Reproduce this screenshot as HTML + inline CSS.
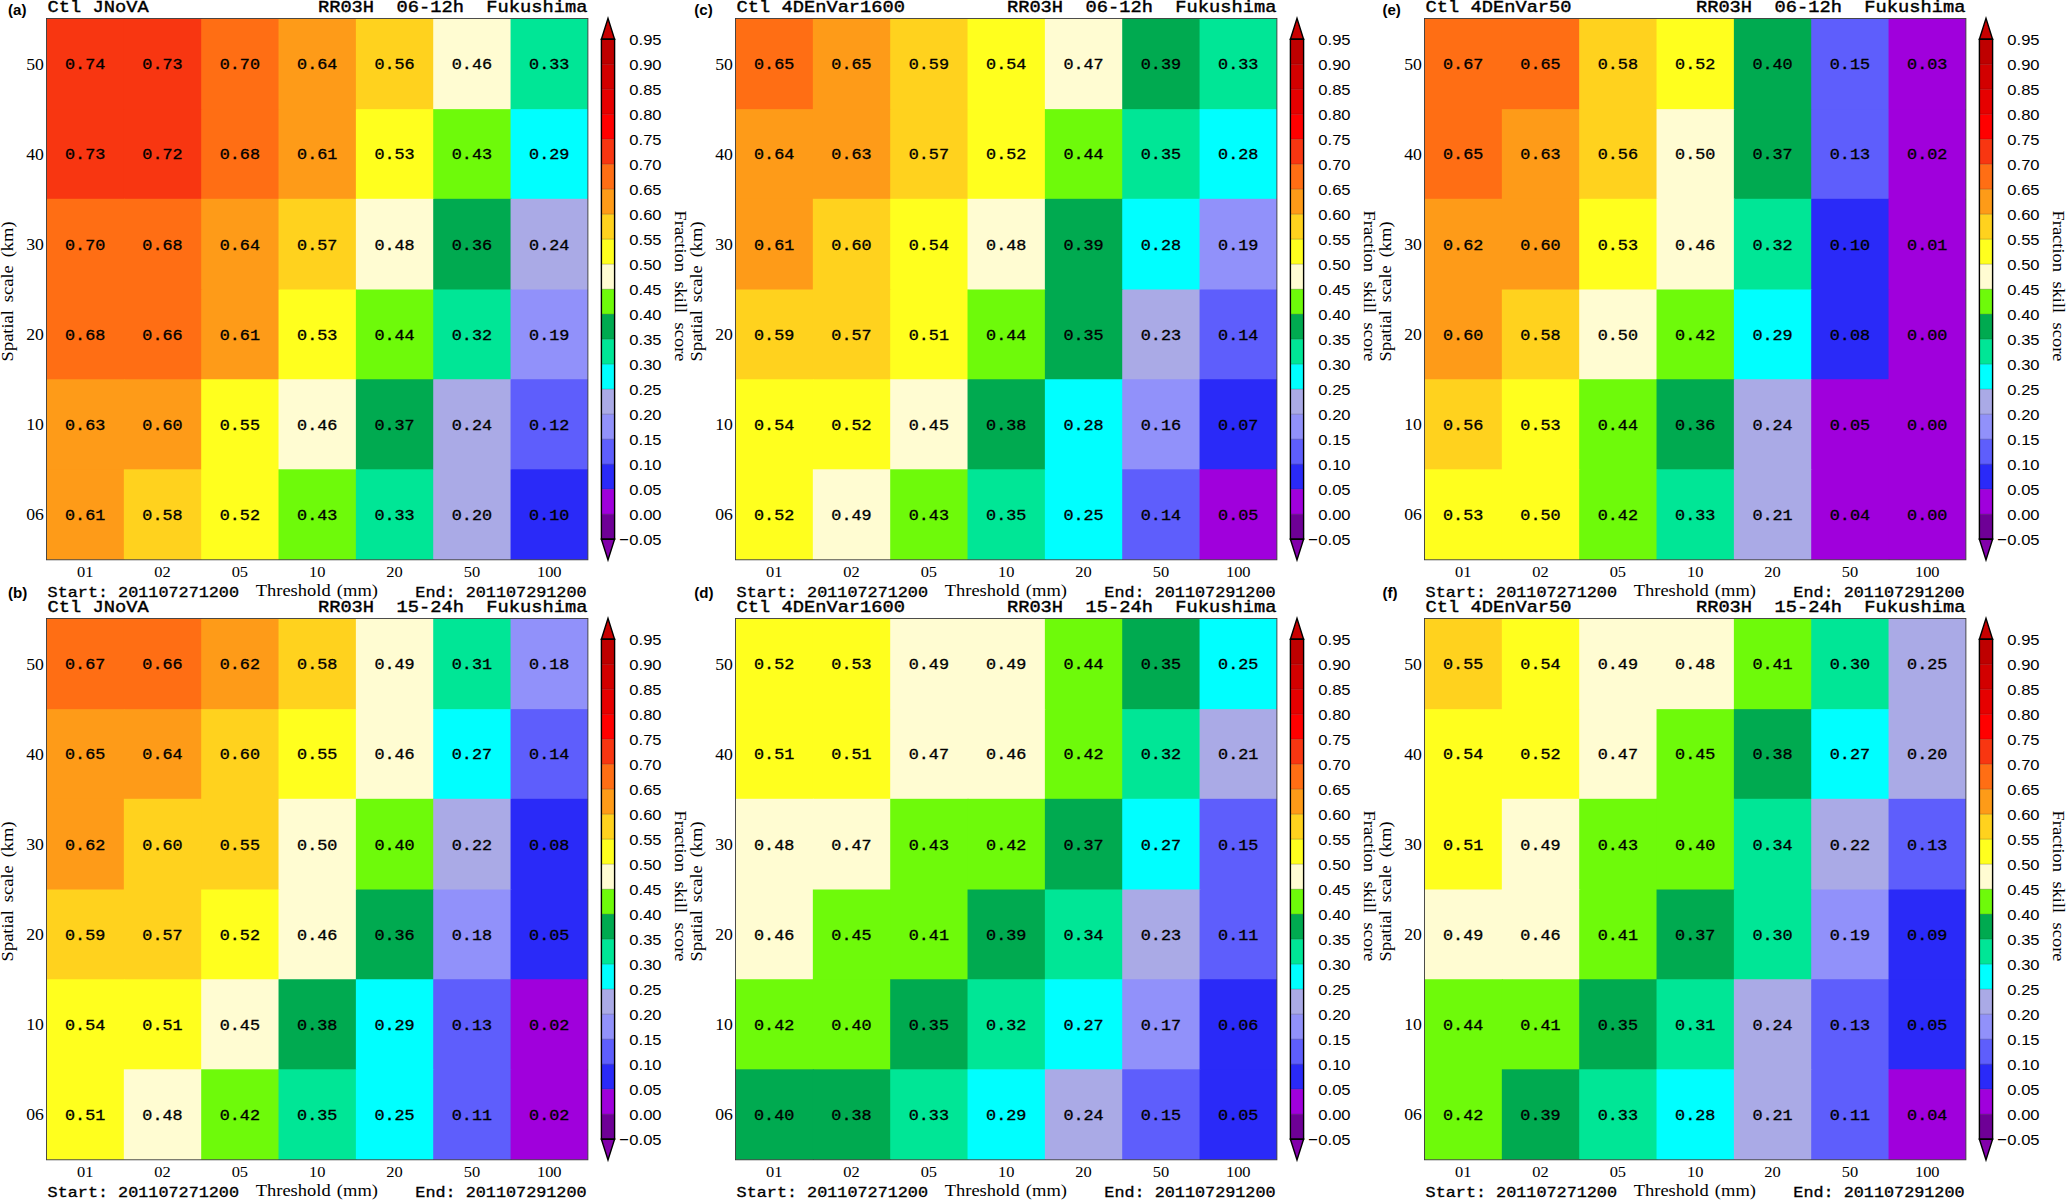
<!DOCTYPE html>
<html><head><meta charset="utf-8"><title>Fraction skill score panels</title>
<style>
html,body{margin:0;padding:0;background:#fff;}
body{width:2067px;height:1200px;overflow:hidden;font-family:"Liberation Sans",sans-serif;}
svg{display:block;}
text{fill:#000;}
</style></head><body>
<svg width="2067" height="1200" viewBox="0 0 2067 1200">
<rect x="0" y="0" width="2067" height="1200" fill="#fff"/>
<g transform="translate(0 0)">
<rect x="46.50" y="18.45" width="78.34" height="91.70" fill="#f83611"/>
<rect x="123.84" y="18.45" width="78.34" height="91.70" fill="#f83611"/>
<rect x="201.19" y="18.45" width="78.34" height="91.70" fill="#ff6e14"/>
<rect x="278.53" y="18.45" width="78.34" height="91.70" fill="#fe9b18"/>
<rect x="355.87" y="18.45" width="78.34" height="91.70" fill="#ffd21e"/>
<rect x="433.21" y="18.45" width="78.34" height="91.70" fill="#fffcd2"/>
<rect x="510.56" y="18.45" width="77.34" height="91.70" fill="#00e696"/>
<rect x="46.50" y="109.15" width="78.34" height="90.65" fill="#f83611"/>
<rect x="123.84" y="109.15" width="78.34" height="90.65" fill="#f83611"/>
<rect x="201.19" y="109.15" width="78.34" height="90.65" fill="#ff6e14"/>
<rect x="278.53" y="109.15" width="78.34" height="90.65" fill="#fe9b18"/>
<rect x="355.87" y="109.15" width="78.34" height="90.65" fill="#ffff1e"/>
<rect x="433.21" y="109.15" width="78.34" height="90.65" fill="#6efa0a"/>
<rect x="510.56" y="109.15" width="77.34" height="90.65" fill="#00ffff"/>
<rect x="46.50" y="198.80" width="78.34" height="91.70" fill="#ff6e14"/>
<rect x="123.84" y="198.80" width="78.34" height="91.70" fill="#ff6e14"/>
<rect x="201.19" y="198.80" width="78.34" height="91.70" fill="#fe9b18"/>
<rect x="278.53" y="198.80" width="78.34" height="91.70" fill="#ffd21e"/>
<rect x="355.87" y="198.80" width="78.34" height="91.70" fill="#fffcd2"/>
<rect x="433.21" y="198.80" width="78.34" height="91.70" fill="#00aa50"/>
<rect x="510.56" y="198.80" width="77.34" height="91.70" fill="#aaaae6"/>
<rect x="46.50" y="289.50" width="78.34" height="90.75" fill="#ff6e14"/>
<rect x="123.84" y="289.50" width="78.34" height="90.75" fill="#ff6e14"/>
<rect x="201.19" y="289.50" width="78.34" height="90.75" fill="#fe9b18"/>
<rect x="278.53" y="289.50" width="78.34" height="90.75" fill="#ffff1e"/>
<rect x="355.87" y="289.50" width="78.34" height="90.75" fill="#6efa0a"/>
<rect x="433.21" y="289.50" width="78.34" height="90.75" fill="#00e696"/>
<rect x="510.56" y="289.50" width="77.34" height="90.75" fill="#9191fa"/>
<rect x="46.50" y="379.25" width="78.34" height="91.05" fill="#fe9b18"/>
<rect x="123.84" y="379.25" width="78.34" height="91.05" fill="#fe9b18"/>
<rect x="201.19" y="379.25" width="78.34" height="91.05" fill="#ffff1e"/>
<rect x="278.53" y="379.25" width="78.34" height="91.05" fill="#fffcd2"/>
<rect x="355.87" y="379.25" width="78.34" height="91.05" fill="#00aa50"/>
<rect x="433.21" y="379.25" width="78.34" height="91.05" fill="#aaaae6"/>
<rect x="510.56" y="379.25" width="77.34" height="91.05" fill="#5e5efc"/>
<rect x="46.50" y="469.30" width="78.34" height="90.50" fill="#fe9b18"/>
<rect x="123.84" y="469.30" width="78.34" height="90.50" fill="#ffd21e"/>
<rect x="201.19" y="469.30" width="78.34" height="90.50" fill="#ffff1e"/>
<rect x="278.53" y="469.30" width="78.34" height="90.50" fill="#6efa0a"/>
<rect x="355.87" y="469.30" width="78.34" height="90.50" fill="#00e696"/>
<rect x="433.21" y="469.30" width="78.34" height="90.50" fill="#aaaae6"/>
<rect x="510.56" y="469.30" width="77.34" height="90.50" fill="#2a2af8"/>
<rect x="46.50" y="18.45" width="541.40" height="541.35" fill="none" stroke="#3a3a3a" stroke-width="0.9"/>
<text transform="translate(85.17 69.30) scale(1.105 1)" font-family="Liberation Mono" font-size="15.2" font-weight="normal" text-anchor="middle" stroke="#000" stroke-width="0.32">0.74</text>
<text transform="translate(162.51 69.30) scale(1.105 1)" font-family="Liberation Mono" font-size="15.2" font-weight="normal" text-anchor="middle" stroke="#000" stroke-width="0.32">0.73</text>
<text transform="translate(239.86 69.30) scale(1.105 1)" font-family="Liberation Mono" font-size="15.2" font-weight="normal" text-anchor="middle" stroke="#000" stroke-width="0.32">0.70</text>
<text transform="translate(317.20 69.30) scale(1.105 1)" font-family="Liberation Mono" font-size="15.2" font-weight="normal" text-anchor="middle" stroke="#000" stroke-width="0.32">0.64</text>
<text transform="translate(394.54 69.30) scale(1.105 1)" font-family="Liberation Mono" font-size="15.2" font-weight="normal" text-anchor="middle" stroke="#000" stroke-width="0.32">0.56</text>
<text transform="translate(471.89 69.30) scale(1.105 1)" font-family="Liberation Mono" font-size="15.2" font-weight="normal" text-anchor="middle" stroke="#000" stroke-width="0.32">0.46</text>
<text transform="translate(549.23 69.30) scale(1.105 1)" font-family="Liberation Mono" font-size="15.2" font-weight="normal" text-anchor="middle" stroke="#000" stroke-width="0.32">0.33</text>
<text transform="translate(85.17 159.46) scale(1.105 1)" font-family="Liberation Mono" font-size="15.2" font-weight="normal" text-anchor="middle" stroke="#000" stroke-width="0.32">0.73</text>
<text transform="translate(162.51 159.46) scale(1.105 1)" font-family="Liberation Mono" font-size="15.2" font-weight="normal" text-anchor="middle" stroke="#000" stroke-width="0.32">0.72</text>
<text transform="translate(239.86 159.46) scale(1.105 1)" font-family="Liberation Mono" font-size="15.2" font-weight="normal" text-anchor="middle" stroke="#000" stroke-width="0.32">0.68</text>
<text transform="translate(317.20 159.46) scale(1.105 1)" font-family="Liberation Mono" font-size="15.2" font-weight="normal" text-anchor="middle" stroke="#000" stroke-width="0.32">0.61</text>
<text transform="translate(394.54 159.46) scale(1.105 1)" font-family="Liberation Mono" font-size="15.2" font-weight="normal" text-anchor="middle" stroke="#000" stroke-width="0.32">0.53</text>
<text transform="translate(471.89 159.46) scale(1.105 1)" font-family="Liberation Mono" font-size="15.2" font-weight="normal" text-anchor="middle" stroke="#000" stroke-width="0.32">0.43</text>
<text transform="translate(549.23 159.46) scale(1.105 1)" font-family="Liberation Mono" font-size="15.2" font-weight="normal" text-anchor="middle" stroke="#000" stroke-width="0.32">0.29</text>
<text transform="translate(85.17 249.62) scale(1.105 1)" font-family="Liberation Mono" font-size="15.2" font-weight="normal" text-anchor="middle" stroke="#000" stroke-width="0.32">0.70</text>
<text transform="translate(162.51 249.62) scale(1.105 1)" font-family="Liberation Mono" font-size="15.2" font-weight="normal" text-anchor="middle" stroke="#000" stroke-width="0.32">0.68</text>
<text transform="translate(239.86 249.62) scale(1.105 1)" font-family="Liberation Mono" font-size="15.2" font-weight="normal" text-anchor="middle" stroke="#000" stroke-width="0.32">0.64</text>
<text transform="translate(317.20 249.62) scale(1.105 1)" font-family="Liberation Mono" font-size="15.2" font-weight="normal" text-anchor="middle" stroke="#000" stroke-width="0.32">0.57</text>
<text transform="translate(394.54 249.62) scale(1.105 1)" font-family="Liberation Mono" font-size="15.2" font-weight="normal" text-anchor="middle" stroke="#000" stroke-width="0.32">0.48</text>
<text transform="translate(471.89 249.62) scale(1.105 1)" font-family="Liberation Mono" font-size="15.2" font-weight="normal" text-anchor="middle" stroke="#000" stroke-width="0.32">0.36</text>
<text transform="translate(549.23 249.62) scale(1.105 1)" font-family="Liberation Mono" font-size="15.2" font-weight="normal" text-anchor="middle" stroke="#000" stroke-width="0.32">0.24</text>
<text transform="translate(85.17 339.78) scale(1.105 1)" font-family="Liberation Mono" font-size="15.2" font-weight="normal" text-anchor="middle" stroke="#000" stroke-width="0.32">0.68</text>
<text transform="translate(162.51 339.78) scale(1.105 1)" font-family="Liberation Mono" font-size="15.2" font-weight="normal" text-anchor="middle" stroke="#000" stroke-width="0.32">0.66</text>
<text transform="translate(239.86 339.78) scale(1.105 1)" font-family="Liberation Mono" font-size="15.2" font-weight="normal" text-anchor="middle" stroke="#000" stroke-width="0.32">0.61</text>
<text transform="translate(317.20 339.78) scale(1.105 1)" font-family="Liberation Mono" font-size="15.2" font-weight="normal" text-anchor="middle" stroke="#000" stroke-width="0.32">0.53</text>
<text transform="translate(394.54 339.78) scale(1.105 1)" font-family="Liberation Mono" font-size="15.2" font-weight="normal" text-anchor="middle" stroke="#000" stroke-width="0.32">0.44</text>
<text transform="translate(471.89 339.78) scale(1.105 1)" font-family="Liberation Mono" font-size="15.2" font-weight="normal" text-anchor="middle" stroke="#000" stroke-width="0.32">0.32</text>
<text transform="translate(549.23 339.78) scale(1.105 1)" font-family="Liberation Mono" font-size="15.2" font-weight="normal" text-anchor="middle" stroke="#000" stroke-width="0.32">0.19</text>
<text transform="translate(85.17 429.94) scale(1.105 1)" font-family="Liberation Mono" font-size="15.2" font-weight="normal" text-anchor="middle" stroke="#000" stroke-width="0.32">0.63</text>
<text transform="translate(162.51 429.94) scale(1.105 1)" font-family="Liberation Mono" font-size="15.2" font-weight="normal" text-anchor="middle" stroke="#000" stroke-width="0.32">0.60</text>
<text transform="translate(239.86 429.94) scale(1.105 1)" font-family="Liberation Mono" font-size="15.2" font-weight="normal" text-anchor="middle" stroke="#000" stroke-width="0.32">0.55</text>
<text transform="translate(317.20 429.94) scale(1.105 1)" font-family="Liberation Mono" font-size="15.2" font-weight="normal" text-anchor="middle" stroke="#000" stroke-width="0.32">0.46</text>
<text transform="translate(394.54 429.94) scale(1.105 1)" font-family="Liberation Mono" font-size="15.2" font-weight="normal" text-anchor="middle" stroke="#000" stroke-width="0.32">0.37</text>
<text transform="translate(471.89 429.94) scale(1.105 1)" font-family="Liberation Mono" font-size="15.2" font-weight="normal" text-anchor="middle" stroke="#000" stroke-width="0.32">0.24</text>
<text transform="translate(549.23 429.94) scale(1.105 1)" font-family="Liberation Mono" font-size="15.2" font-weight="normal" text-anchor="middle" stroke="#000" stroke-width="0.32">0.12</text>
<text transform="translate(85.17 520.10) scale(1.105 1)" font-family="Liberation Mono" font-size="15.2" font-weight="normal" text-anchor="middle" stroke="#000" stroke-width="0.32">0.61</text>
<text transform="translate(162.51 520.10) scale(1.105 1)" font-family="Liberation Mono" font-size="15.2" font-weight="normal" text-anchor="middle" stroke="#000" stroke-width="0.32">0.58</text>
<text transform="translate(239.86 520.10) scale(1.105 1)" font-family="Liberation Mono" font-size="15.2" font-weight="normal" text-anchor="middle" stroke="#000" stroke-width="0.32">0.52</text>
<text transform="translate(317.20 520.10) scale(1.105 1)" font-family="Liberation Mono" font-size="15.2" font-weight="normal" text-anchor="middle" stroke="#000" stroke-width="0.32">0.43</text>
<text transform="translate(394.54 520.10) scale(1.105 1)" font-family="Liberation Mono" font-size="15.2" font-weight="normal" text-anchor="middle" stroke="#000" stroke-width="0.32">0.33</text>
<text transform="translate(471.89 520.10) scale(1.105 1)" font-family="Liberation Mono" font-size="15.2" font-weight="normal" text-anchor="middle" stroke="#000" stroke-width="0.32">0.20</text>
<text transform="translate(549.23 520.10) scale(1.105 1)" font-family="Liberation Mono" font-size="15.2" font-weight="normal" text-anchor="middle" stroke="#000" stroke-width="0.32">0.10</text>
<text transform="translate(43.90 69.60) scale(1.04 1)" font-family="Liberation Serif" font-size="17.0" font-weight="normal" text-anchor="end">50</text>
<text transform="translate(43.90 159.76) scale(1.04 1)" font-family="Liberation Serif" font-size="17.0" font-weight="normal" text-anchor="end">40</text>
<text transform="translate(43.90 249.92) scale(1.04 1)" font-family="Liberation Serif" font-size="17.0" font-weight="normal" text-anchor="end">30</text>
<text transform="translate(43.90 340.08) scale(1.04 1)" font-family="Liberation Serif" font-size="17.0" font-weight="normal" text-anchor="end">20</text>
<text transform="translate(43.90 430.24) scale(1.04 1)" font-family="Liberation Serif" font-size="17.0" font-weight="normal" text-anchor="end">10</text>
<text transform="translate(43.90 520.40) scale(1.04 1)" font-family="Liberation Serif" font-size="17.0" font-weight="normal" text-anchor="end">06</text>
<text transform="translate(85.17 577.30) scale(1.06 1)" font-family="Liberation Serif" font-size="15.5" font-weight="normal" text-anchor="middle">01</text>
<text transform="translate(162.51 577.30) scale(1.06 1)" font-family="Liberation Serif" font-size="15.5" font-weight="normal" text-anchor="middle">02</text>
<text transform="translate(239.86 577.30) scale(1.06 1)" font-family="Liberation Serif" font-size="15.5" font-weight="normal" text-anchor="middle">05</text>
<text transform="translate(317.20 577.30) scale(1.06 1)" font-family="Liberation Serif" font-size="15.5" font-weight="normal" text-anchor="middle">10</text>
<text transform="translate(394.54 577.30) scale(1.06 1)" font-family="Liberation Serif" font-size="15.5" font-weight="normal" text-anchor="middle">20</text>
<text transform="translate(471.89 577.30) scale(1.06 1)" font-family="Liberation Serif" font-size="15.5" font-weight="normal" text-anchor="middle">50</text>
<text transform="translate(549.23 577.30) scale(1.06 1)" font-family="Liberation Serif" font-size="15.5" font-weight="normal" text-anchor="middle">100</text>
<text transform="translate(316.80 596.00) scale(1.075 1)" font-family="Liberation Serif" font-size="17.2" font-weight="normal" text-anchor="middle" word-spacing="1.5">Threshold (mm)</text>
<text transform="translate(13.20 291.40) rotate(-90) scale(1.127 1)" font-family="Liberation Serif" font-size="16.4" text-anchor="middle" word-spacing="2.9">Spatial scale (km)</text>
<text transform="translate(675.10 286.00) rotate(90) scale(1.127 1)" font-family="Liberation Serif" font-size="16.4" text-anchor="middle" word-spacing="4.2">Fraction skill score</text>
<text transform="translate(47.60 12.00) scale(1.088 1)" font-family="Liberation Mono" font-size="17.2" font-weight="normal" text-anchor="start" xml:space="preserve" style="white-space:pre" stroke="#000" stroke-width="0.42">Ctl JNoVA</text>
<text transform="translate(587.40 12.00) scale(1.088 1)" font-family="Liberation Mono" font-size="17.2" font-weight="normal" text-anchor="end" xml:space="preserve" style="white-space:pre" stroke="#000" stroke-width="0.42">RR03H  06-12h  Fukushima</text>
<text transform="translate(47.60 597.00) scale(1.209 1)" font-family="Liberation Mono" font-size="13.9" font-weight="normal" text-anchor="start" xml:space="preserve" style="white-space:pre" stroke="#000" stroke-width="0.3">Start: 201107271200</text>
<text transform="translate(586.60 597.00) scale(1.209 1)" font-family="Liberation Mono" font-size="13.9" font-weight="normal" text-anchor="end" xml:space="preserve" style="white-space:pre" stroke="#000" stroke-width="0.3">End: 201107291200</text>
<text transform="translate(8.00 14.80) scale(0.975 1)" font-family="Liberation Sans" font-size="15.5" font-weight="bold" text-anchor="start">(a)</text>
<rect x="601.40" y="39.20" width="13.20" height="25.20" fill="#be0000"/>
<rect x="601.40" y="64.20" width="13.20" height="25.20" fill="#d20000"/>
<rect x="601.40" y="89.20" width="13.20" height="25.20" fill="#e60000"/>
<rect x="601.40" y="114.20" width="13.20" height="25.20" fill="#ff0000"/>
<rect x="601.40" y="139.20" width="13.20" height="25.20" fill="#f83611"/>
<rect x="601.40" y="164.20" width="13.20" height="25.20" fill="#ff6e14"/>
<rect x="601.40" y="189.20" width="13.20" height="25.20" fill="#fe9b18"/>
<rect x="601.40" y="214.20" width="13.20" height="25.20" fill="#ffd21e"/>
<rect x="601.40" y="239.20" width="13.20" height="25.20" fill="#ffff1e"/>
<rect x="601.40" y="264.20" width="13.20" height="25.20" fill="#fffcd2"/>
<rect x="601.40" y="289.20" width="13.20" height="25.20" fill="#6efa0a"/>
<rect x="601.40" y="314.20" width="13.20" height="25.20" fill="#00aa50"/>
<rect x="601.40" y="339.20" width="13.20" height="25.20" fill="#00e696"/>
<rect x="601.40" y="364.20" width="13.20" height="25.20" fill="#00ffff"/>
<rect x="601.40" y="389.20" width="13.20" height="25.20" fill="#aaaae6"/>
<rect x="601.40" y="414.20" width="13.20" height="25.20" fill="#9191fa"/>
<rect x="601.40" y="439.20" width="13.20" height="25.20" fill="#5e5efc"/>
<rect x="601.40" y="464.20" width="13.20" height="25.20" fill="#2a2af8"/>
<rect x="601.40" y="489.20" width="13.20" height="25.20" fill="#a000dc"/>
<rect x="601.40" y="514.20" width="13.20" height="25.20" fill="#6e0096"/>
<line x1="601.40" y1="64.20" x2="614.60" y2="64.20" stroke="#000" stroke-opacity="0.35" stroke-width="0.6"/>
<line x1="601.40" y1="89.20" x2="614.60" y2="89.20" stroke="#000" stroke-opacity="0.35" stroke-width="0.6"/>
<line x1="601.40" y1="114.20" x2="614.60" y2="114.20" stroke="#000" stroke-opacity="0.35" stroke-width="0.6"/>
<line x1="601.40" y1="139.20" x2="614.60" y2="139.20" stroke="#000" stroke-opacity="0.35" stroke-width="0.6"/>
<line x1="601.40" y1="164.20" x2="614.60" y2="164.20" stroke="#000" stroke-opacity="0.35" stroke-width="0.6"/>
<line x1="601.40" y1="189.20" x2="614.60" y2="189.20" stroke="#000" stroke-opacity="0.35" stroke-width="0.6"/>
<line x1="601.40" y1="214.20" x2="614.60" y2="214.20" stroke="#000" stroke-opacity="0.35" stroke-width="0.6"/>
<line x1="601.40" y1="239.20" x2="614.60" y2="239.20" stroke="#000" stroke-opacity="0.35" stroke-width="0.6"/>
<line x1="601.40" y1="264.20" x2="614.60" y2="264.20" stroke="#000" stroke-opacity="0.35" stroke-width="0.6"/>
<line x1="601.40" y1="289.20" x2="614.60" y2="289.20" stroke="#000" stroke-opacity="0.35" stroke-width="0.6"/>
<line x1="601.40" y1="314.20" x2="614.60" y2="314.20" stroke="#000" stroke-opacity="0.35" stroke-width="0.6"/>
<line x1="601.40" y1="339.20" x2="614.60" y2="339.20" stroke="#000" stroke-opacity="0.35" stroke-width="0.6"/>
<line x1="601.40" y1="364.20" x2="614.60" y2="364.20" stroke="#000" stroke-opacity="0.35" stroke-width="0.6"/>
<line x1="601.40" y1="389.20" x2="614.60" y2="389.20" stroke="#000" stroke-opacity="0.35" stroke-width="0.6"/>
<line x1="601.40" y1="414.20" x2="614.60" y2="414.20" stroke="#000" stroke-opacity="0.35" stroke-width="0.6"/>
<line x1="601.40" y1="439.20" x2="614.60" y2="439.20" stroke="#000" stroke-opacity="0.35" stroke-width="0.6"/>
<line x1="601.40" y1="464.20" x2="614.60" y2="464.20" stroke="#000" stroke-opacity="0.35" stroke-width="0.6"/>
<line x1="601.40" y1="489.20" x2="614.60" y2="489.20" stroke="#000" stroke-opacity="0.35" stroke-width="0.6"/>
<line x1="601.40" y1="514.20" x2="614.60" y2="514.20" stroke="#000" stroke-opacity="0.35" stroke-width="0.6"/>
<path d="M601.40 39.20 L608.00 18.40 L614.60 39.20 Z" fill="#c80000" stroke="#000" stroke-width="1.4" stroke-linejoin="miter"/>
<path d="M601.40 539.20 L608.00 560.00 L614.60 539.20 Z" fill="#8200aa" stroke="#000" stroke-width="1.4" stroke-linejoin="miter"/>
<rect x="601.40" y="39.20" width="13.20" height="500.00" fill="none" stroke="#000" stroke-width="1.4"/>
<text transform="translate(629.30 44.90) scale(1.07 1)" font-family="Liberation Sans" font-size="15.5" font-weight="normal" text-anchor="start">0.95</text>
<text transform="translate(629.30 69.90) scale(1.07 1)" font-family="Liberation Sans" font-size="15.5" font-weight="normal" text-anchor="start">0.90</text>
<text transform="translate(629.30 94.90) scale(1.07 1)" font-family="Liberation Sans" font-size="15.5" font-weight="normal" text-anchor="start">0.85</text>
<text transform="translate(629.30 119.90) scale(1.07 1)" font-family="Liberation Sans" font-size="15.5" font-weight="normal" text-anchor="start">0.80</text>
<text transform="translate(629.30 144.90) scale(1.07 1)" font-family="Liberation Sans" font-size="15.5" font-weight="normal" text-anchor="start">0.75</text>
<text transform="translate(629.30 169.90) scale(1.07 1)" font-family="Liberation Sans" font-size="15.5" font-weight="normal" text-anchor="start">0.70</text>
<text transform="translate(629.30 194.90) scale(1.07 1)" font-family="Liberation Sans" font-size="15.5" font-weight="normal" text-anchor="start">0.65</text>
<text transform="translate(629.30 219.90) scale(1.07 1)" font-family="Liberation Sans" font-size="15.5" font-weight="normal" text-anchor="start">0.60</text>
<text transform="translate(629.30 244.90) scale(1.07 1)" font-family="Liberation Sans" font-size="15.5" font-weight="normal" text-anchor="start">0.55</text>
<text transform="translate(629.30 269.90) scale(1.07 1)" font-family="Liberation Sans" font-size="15.5" font-weight="normal" text-anchor="start">0.50</text>
<text transform="translate(629.30 294.90) scale(1.07 1)" font-family="Liberation Sans" font-size="15.5" font-weight="normal" text-anchor="start">0.45</text>
<text transform="translate(629.30 319.90) scale(1.07 1)" font-family="Liberation Sans" font-size="15.5" font-weight="normal" text-anchor="start">0.40</text>
<text transform="translate(629.30 344.90) scale(1.07 1)" font-family="Liberation Sans" font-size="15.5" font-weight="normal" text-anchor="start">0.35</text>
<text transform="translate(629.30 369.90) scale(1.07 1)" font-family="Liberation Sans" font-size="15.5" font-weight="normal" text-anchor="start">0.30</text>
<text transform="translate(629.30 394.90) scale(1.07 1)" font-family="Liberation Sans" font-size="15.5" font-weight="normal" text-anchor="start">0.25</text>
<text transform="translate(629.30 419.90) scale(1.07 1)" font-family="Liberation Sans" font-size="15.5" font-weight="normal" text-anchor="start">0.20</text>
<text transform="translate(629.30 444.90) scale(1.07 1)" font-family="Liberation Sans" font-size="15.5" font-weight="normal" text-anchor="start">0.15</text>
<text transform="translate(629.30 469.90) scale(1.07 1)" font-family="Liberation Sans" font-size="15.5" font-weight="normal" text-anchor="start">0.10</text>
<text transform="translate(629.30 494.90) scale(1.07 1)" font-family="Liberation Sans" font-size="15.5" font-weight="normal" text-anchor="start">0.05</text>
<text transform="translate(629.30 519.90) scale(1.07 1)" font-family="Liberation Sans" font-size="15.5" font-weight="normal" text-anchor="start">0.00</text>
<text transform="translate(629.30 544.90) scale(1.07 1)" font-family="Liberation Sans" font-size="15.5" font-weight="normal" text-anchor="start">0.05</text>
<text transform="translate(628.80 544.90) scale(1.07 1)" font-family="Liberation Sans" font-size="15.5" font-weight="normal" text-anchor="end">−</text>
</g>
<g transform="translate(0 600)">
<rect x="46.50" y="18.45" width="78.34" height="91.70" fill="#ff6e14"/>
<rect x="123.84" y="18.45" width="78.34" height="91.70" fill="#ff6e14"/>
<rect x="201.19" y="18.45" width="78.34" height="91.70" fill="#fe9b18"/>
<rect x="278.53" y="18.45" width="78.34" height="91.70" fill="#ffd21e"/>
<rect x="355.87" y="18.45" width="78.34" height="91.70" fill="#fffcd2"/>
<rect x="433.21" y="18.45" width="78.34" height="91.70" fill="#00e696"/>
<rect x="510.56" y="18.45" width="77.34" height="91.70" fill="#9191fa"/>
<rect x="46.50" y="109.15" width="78.34" height="90.65" fill="#fe9b18"/>
<rect x="123.84" y="109.15" width="78.34" height="90.65" fill="#fe9b18"/>
<rect x="201.19" y="109.15" width="78.34" height="90.65" fill="#ffd21e"/>
<rect x="278.53" y="109.15" width="78.34" height="90.65" fill="#ffff1e"/>
<rect x="355.87" y="109.15" width="78.34" height="90.65" fill="#fffcd2"/>
<rect x="433.21" y="109.15" width="78.34" height="90.65" fill="#00ffff"/>
<rect x="510.56" y="109.15" width="77.34" height="90.65" fill="#5e5efc"/>
<rect x="46.50" y="198.80" width="78.34" height="91.70" fill="#fe9b18"/>
<rect x="123.84" y="198.80" width="78.34" height="91.70" fill="#ffd21e"/>
<rect x="201.19" y="198.80" width="78.34" height="91.70" fill="#ffd21e"/>
<rect x="278.53" y="198.80" width="78.34" height="91.70" fill="#fffcd2"/>
<rect x="355.87" y="198.80" width="78.34" height="91.70" fill="#6efa0a"/>
<rect x="433.21" y="198.80" width="78.34" height="91.70" fill="#aaaae6"/>
<rect x="510.56" y="198.80" width="77.34" height="91.70" fill="#2a2af8"/>
<rect x="46.50" y="289.50" width="78.34" height="90.75" fill="#ffd21e"/>
<rect x="123.84" y="289.50" width="78.34" height="90.75" fill="#ffd21e"/>
<rect x="201.19" y="289.50" width="78.34" height="90.75" fill="#ffff1e"/>
<rect x="278.53" y="289.50" width="78.34" height="90.75" fill="#fffcd2"/>
<rect x="355.87" y="289.50" width="78.34" height="90.75" fill="#00aa50"/>
<rect x="433.21" y="289.50" width="78.34" height="90.75" fill="#9191fa"/>
<rect x="510.56" y="289.50" width="77.34" height="90.75" fill="#2a2af8"/>
<rect x="46.50" y="379.25" width="78.34" height="91.05" fill="#ffff1e"/>
<rect x="123.84" y="379.25" width="78.34" height="91.05" fill="#ffff1e"/>
<rect x="201.19" y="379.25" width="78.34" height="91.05" fill="#fffcd2"/>
<rect x="278.53" y="379.25" width="78.34" height="91.05" fill="#00aa50"/>
<rect x="355.87" y="379.25" width="78.34" height="91.05" fill="#00ffff"/>
<rect x="433.21" y="379.25" width="78.34" height="91.05" fill="#5e5efc"/>
<rect x="510.56" y="379.25" width="77.34" height="91.05" fill="#a000dc"/>
<rect x="46.50" y="469.30" width="78.34" height="90.50" fill="#ffff1e"/>
<rect x="123.84" y="469.30" width="78.34" height="90.50" fill="#fffcd2"/>
<rect x="201.19" y="469.30" width="78.34" height="90.50" fill="#6efa0a"/>
<rect x="278.53" y="469.30" width="78.34" height="90.50" fill="#00e696"/>
<rect x="355.87" y="469.30" width="78.34" height="90.50" fill="#00ffff"/>
<rect x="433.21" y="469.30" width="78.34" height="90.50" fill="#5e5efc"/>
<rect x="510.56" y="469.30" width="77.34" height="90.50" fill="#a000dc"/>
<rect x="46.50" y="18.45" width="541.40" height="541.35" fill="none" stroke="#3a3a3a" stroke-width="0.9"/>
<text transform="translate(85.17 69.30) scale(1.105 1)" font-family="Liberation Mono" font-size="15.2" font-weight="normal" text-anchor="middle" stroke="#000" stroke-width="0.32">0.67</text>
<text transform="translate(162.51 69.30) scale(1.105 1)" font-family="Liberation Mono" font-size="15.2" font-weight="normal" text-anchor="middle" stroke="#000" stroke-width="0.32">0.66</text>
<text transform="translate(239.86 69.30) scale(1.105 1)" font-family="Liberation Mono" font-size="15.2" font-weight="normal" text-anchor="middle" stroke="#000" stroke-width="0.32">0.62</text>
<text transform="translate(317.20 69.30) scale(1.105 1)" font-family="Liberation Mono" font-size="15.2" font-weight="normal" text-anchor="middle" stroke="#000" stroke-width="0.32">0.58</text>
<text transform="translate(394.54 69.30) scale(1.105 1)" font-family="Liberation Mono" font-size="15.2" font-weight="normal" text-anchor="middle" stroke="#000" stroke-width="0.32">0.49</text>
<text transform="translate(471.89 69.30) scale(1.105 1)" font-family="Liberation Mono" font-size="15.2" font-weight="normal" text-anchor="middle" stroke="#000" stroke-width="0.32">0.31</text>
<text transform="translate(549.23 69.30) scale(1.105 1)" font-family="Liberation Mono" font-size="15.2" font-weight="normal" text-anchor="middle" stroke="#000" stroke-width="0.32">0.18</text>
<text transform="translate(85.17 159.46) scale(1.105 1)" font-family="Liberation Mono" font-size="15.2" font-weight="normal" text-anchor="middle" stroke="#000" stroke-width="0.32">0.65</text>
<text transform="translate(162.51 159.46) scale(1.105 1)" font-family="Liberation Mono" font-size="15.2" font-weight="normal" text-anchor="middle" stroke="#000" stroke-width="0.32">0.64</text>
<text transform="translate(239.86 159.46) scale(1.105 1)" font-family="Liberation Mono" font-size="15.2" font-weight="normal" text-anchor="middle" stroke="#000" stroke-width="0.32">0.60</text>
<text transform="translate(317.20 159.46) scale(1.105 1)" font-family="Liberation Mono" font-size="15.2" font-weight="normal" text-anchor="middle" stroke="#000" stroke-width="0.32">0.55</text>
<text transform="translate(394.54 159.46) scale(1.105 1)" font-family="Liberation Mono" font-size="15.2" font-weight="normal" text-anchor="middle" stroke="#000" stroke-width="0.32">0.46</text>
<text transform="translate(471.89 159.46) scale(1.105 1)" font-family="Liberation Mono" font-size="15.2" font-weight="normal" text-anchor="middle" stroke="#000" stroke-width="0.32">0.27</text>
<text transform="translate(549.23 159.46) scale(1.105 1)" font-family="Liberation Mono" font-size="15.2" font-weight="normal" text-anchor="middle" stroke="#000" stroke-width="0.32">0.14</text>
<text transform="translate(85.17 249.62) scale(1.105 1)" font-family="Liberation Mono" font-size="15.2" font-weight="normal" text-anchor="middle" stroke="#000" stroke-width="0.32">0.62</text>
<text transform="translate(162.51 249.62) scale(1.105 1)" font-family="Liberation Mono" font-size="15.2" font-weight="normal" text-anchor="middle" stroke="#000" stroke-width="0.32">0.60</text>
<text transform="translate(239.86 249.62) scale(1.105 1)" font-family="Liberation Mono" font-size="15.2" font-weight="normal" text-anchor="middle" stroke="#000" stroke-width="0.32">0.55</text>
<text transform="translate(317.20 249.62) scale(1.105 1)" font-family="Liberation Mono" font-size="15.2" font-weight="normal" text-anchor="middle" stroke="#000" stroke-width="0.32">0.50</text>
<text transform="translate(394.54 249.62) scale(1.105 1)" font-family="Liberation Mono" font-size="15.2" font-weight="normal" text-anchor="middle" stroke="#000" stroke-width="0.32">0.40</text>
<text transform="translate(471.89 249.62) scale(1.105 1)" font-family="Liberation Mono" font-size="15.2" font-weight="normal" text-anchor="middle" stroke="#000" stroke-width="0.32">0.22</text>
<text transform="translate(549.23 249.62) scale(1.105 1)" font-family="Liberation Mono" font-size="15.2" font-weight="normal" text-anchor="middle" stroke="#000" stroke-width="0.32">0.08</text>
<text transform="translate(85.17 339.78) scale(1.105 1)" font-family="Liberation Mono" font-size="15.2" font-weight="normal" text-anchor="middle" stroke="#000" stroke-width="0.32">0.59</text>
<text transform="translate(162.51 339.78) scale(1.105 1)" font-family="Liberation Mono" font-size="15.2" font-weight="normal" text-anchor="middle" stroke="#000" stroke-width="0.32">0.57</text>
<text transform="translate(239.86 339.78) scale(1.105 1)" font-family="Liberation Mono" font-size="15.2" font-weight="normal" text-anchor="middle" stroke="#000" stroke-width="0.32">0.52</text>
<text transform="translate(317.20 339.78) scale(1.105 1)" font-family="Liberation Mono" font-size="15.2" font-weight="normal" text-anchor="middle" stroke="#000" stroke-width="0.32">0.46</text>
<text transform="translate(394.54 339.78) scale(1.105 1)" font-family="Liberation Mono" font-size="15.2" font-weight="normal" text-anchor="middle" stroke="#000" stroke-width="0.32">0.36</text>
<text transform="translate(471.89 339.78) scale(1.105 1)" font-family="Liberation Mono" font-size="15.2" font-weight="normal" text-anchor="middle" stroke="#000" stroke-width="0.32">0.18</text>
<text transform="translate(549.23 339.78) scale(1.105 1)" font-family="Liberation Mono" font-size="15.2" font-weight="normal" text-anchor="middle" stroke="#000" stroke-width="0.32">0.05</text>
<text transform="translate(85.17 429.94) scale(1.105 1)" font-family="Liberation Mono" font-size="15.2" font-weight="normal" text-anchor="middle" stroke="#000" stroke-width="0.32">0.54</text>
<text transform="translate(162.51 429.94) scale(1.105 1)" font-family="Liberation Mono" font-size="15.2" font-weight="normal" text-anchor="middle" stroke="#000" stroke-width="0.32">0.51</text>
<text transform="translate(239.86 429.94) scale(1.105 1)" font-family="Liberation Mono" font-size="15.2" font-weight="normal" text-anchor="middle" stroke="#000" stroke-width="0.32">0.45</text>
<text transform="translate(317.20 429.94) scale(1.105 1)" font-family="Liberation Mono" font-size="15.2" font-weight="normal" text-anchor="middle" stroke="#000" stroke-width="0.32">0.38</text>
<text transform="translate(394.54 429.94) scale(1.105 1)" font-family="Liberation Mono" font-size="15.2" font-weight="normal" text-anchor="middle" stroke="#000" stroke-width="0.32">0.29</text>
<text transform="translate(471.89 429.94) scale(1.105 1)" font-family="Liberation Mono" font-size="15.2" font-weight="normal" text-anchor="middle" stroke="#000" stroke-width="0.32">0.13</text>
<text transform="translate(549.23 429.94) scale(1.105 1)" font-family="Liberation Mono" font-size="15.2" font-weight="normal" text-anchor="middle" stroke="#000" stroke-width="0.32">0.02</text>
<text transform="translate(85.17 520.10) scale(1.105 1)" font-family="Liberation Mono" font-size="15.2" font-weight="normal" text-anchor="middle" stroke="#000" stroke-width="0.32">0.51</text>
<text transform="translate(162.51 520.10) scale(1.105 1)" font-family="Liberation Mono" font-size="15.2" font-weight="normal" text-anchor="middle" stroke="#000" stroke-width="0.32">0.48</text>
<text transform="translate(239.86 520.10) scale(1.105 1)" font-family="Liberation Mono" font-size="15.2" font-weight="normal" text-anchor="middle" stroke="#000" stroke-width="0.32">0.42</text>
<text transform="translate(317.20 520.10) scale(1.105 1)" font-family="Liberation Mono" font-size="15.2" font-weight="normal" text-anchor="middle" stroke="#000" stroke-width="0.32">0.35</text>
<text transform="translate(394.54 520.10) scale(1.105 1)" font-family="Liberation Mono" font-size="15.2" font-weight="normal" text-anchor="middle" stroke="#000" stroke-width="0.32">0.25</text>
<text transform="translate(471.89 520.10) scale(1.105 1)" font-family="Liberation Mono" font-size="15.2" font-weight="normal" text-anchor="middle" stroke="#000" stroke-width="0.32">0.11</text>
<text transform="translate(549.23 520.10) scale(1.105 1)" font-family="Liberation Mono" font-size="15.2" font-weight="normal" text-anchor="middle" stroke="#000" stroke-width="0.32">0.02</text>
<text transform="translate(43.90 69.60) scale(1.04 1)" font-family="Liberation Serif" font-size="17.0" font-weight="normal" text-anchor="end">50</text>
<text transform="translate(43.90 159.76) scale(1.04 1)" font-family="Liberation Serif" font-size="17.0" font-weight="normal" text-anchor="end">40</text>
<text transform="translate(43.90 249.92) scale(1.04 1)" font-family="Liberation Serif" font-size="17.0" font-weight="normal" text-anchor="end">30</text>
<text transform="translate(43.90 340.08) scale(1.04 1)" font-family="Liberation Serif" font-size="17.0" font-weight="normal" text-anchor="end">20</text>
<text transform="translate(43.90 430.24) scale(1.04 1)" font-family="Liberation Serif" font-size="17.0" font-weight="normal" text-anchor="end">10</text>
<text transform="translate(43.90 520.40) scale(1.04 1)" font-family="Liberation Serif" font-size="17.0" font-weight="normal" text-anchor="end">06</text>
<text transform="translate(85.17 577.30) scale(1.06 1)" font-family="Liberation Serif" font-size="15.5" font-weight="normal" text-anchor="middle">01</text>
<text transform="translate(162.51 577.30) scale(1.06 1)" font-family="Liberation Serif" font-size="15.5" font-weight="normal" text-anchor="middle">02</text>
<text transform="translate(239.86 577.30) scale(1.06 1)" font-family="Liberation Serif" font-size="15.5" font-weight="normal" text-anchor="middle">05</text>
<text transform="translate(317.20 577.30) scale(1.06 1)" font-family="Liberation Serif" font-size="15.5" font-weight="normal" text-anchor="middle">10</text>
<text transform="translate(394.54 577.30) scale(1.06 1)" font-family="Liberation Serif" font-size="15.5" font-weight="normal" text-anchor="middle">20</text>
<text transform="translate(471.89 577.30) scale(1.06 1)" font-family="Liberation Serif" font-size="15.5" font-weight="normal" text-anchor="middle">50</text>
<text transform="translate(549.23 577.30) scale(1.06 1)" font-family="Liberation Serif" font-size="15.5" font-weight="normal" text-anchor="middle">100</text>
<text transform="translate(316.80 596.00) scale(1.075 1)" font-family="Liberation Serif" font-size="17.2" font-weight="normal" text-anchor="middle" word-spacing="1.5">Threshold (mm)</text>
<text transform="translate(13.20 291.40) rotate(-90) scale(1.127 1)" font-family="Liberation Serif" font-size="16.4" text-anchor="middle" word-spacing="2.9">Spatial scale (km)</text>
<text transform="translate(675.10 286.00) rotate(90) scale(1.127 1)" font-family="Liberation Serif" font-size="16.4" text-anchor="middle" word-spacing="4.2">Fraction skill score</text>
<text transform="translate(47.60 12.00) scale(1.088 1)" font-family="Liberation Mono" font-size="17.2" font-weight="normal" text-anchor="start" xml:space="preserve" style="white-space:pre" stroke="#000" stroke-width="0.42">Ctl JNoVA</text>
<text transform="translate(587.40 12.00) scale(1.088 1)" font-family="Liberation Mono" font-size="17.2" font-weight="normal" text-anchor="end" xml:space="preserve" style="white-space:pre" stroke="#000" stroke-width="0.42">RR03H  15-24h  Fukushima</text>
<text transform="translate(47.60 597.00) scale(1.209 1)" font-family="Liberation Mono" font-size="13.9" font-weight="normal" text-anchor="start" xml:space="preserve" style="white-space:pre" stroke="#000" stroke-width="0.3">Start: 201107271200</text>
<text transform="translate(586.60 597.00) scale(1.209 1)" font-family="Liberation Mono" font-size="13.9" font-weight="normal" text-anchor="end" xml:space="preserve" style="white-space:pre" stroke="#000" stroke-width="0.3">End: 201107291200</text>
<text transform="translate(8.00 -2.10) scale(0.975 1)" font-family="Liberation Sans" font-size="15.5" font-weight="bold" text-anchor="start">(b)</text>
<rect x="601.40" y="39.20" width="13.20" height="25.20" fill="#be0000"/>
<rect x="601.40" y="64.20" width="13.20" height="25.20" fill="#d20000"/>
<rect x="601.40" y="89.20" width="13.20" height="25.20" fill="#e60000"/>
<rect x="601.40" y="114.20" width="13.20" height="25.20" fill="#ff0000"/>
<rect x="601.40" y="139.20" width="13.20" height="25.20" fill="#f83611"/>
<rect x="601.40" y="164.20" width="13.20" height="25.20" fill="#ff6e14"/>
<rect x="601.40" y="189.20" width="13.20" height="25.20" fill="#fe9b18"/>
<rect x="601.40" y="214.20" width="13.20" height="25.20" fill="#ffd21e"/>
<rect x="601.40" y="239.20" width="13.20" height="25.20" fill="#ffff1e"/>
<rect x="601.40" y="264.20" width="13.20" height="25.20" fill="#fffcd2"/>
<rect x="601.40" y="289.20" width="13.20" height="25.20" fill="#6efa0a"/>
<rect x="601.40" y="314.20" width="13.20" height="25.20" fill="#00aa50"/>
<rect x="601.40" y="339.20" width="13.20" height="25.20" fill="#00e696"/>
<rect x="601.40" y="364.20" width="13.20" height="25.20" fill="#00ffff"/>
<rect x="601.40" y="389.20" width="13.20" height="25.20" fill="#aaaae6"/>
<rect x="601.40" y="414.20" width="13.20" height="25.20" fill="#9191fa"/>
<rect x="601.40" y="439.20" width="13.20" height="25.20" fill="#5e5efc"/>
<rect x="601.40" y="464.20" width="13.20" height="25.20" fill="#2a2af8"/>
<rect x="601.40" y="489.20" width="13.20" height="25.20" fill="#a000dc"/>
<rect x="601.40" y="514.20" width="13.20" height="25.20" fill="#6e0096"/>
<line x1="601.40" y1="64.20" x2="614.60" y2="64.20" stroke="#000" stroke-opacity="0.35" stroke-width="0.6"/>
<line x1="601.40" y1="89.20" x2="614.60" y2="89.20" stroke="#000" stroke-opacity="0.35" stroke-width="0.6"/>
<line x1="601.40" y1="114.20" x2="614.60" y2="114.20" stroke="#000" stroke-opacity="0.35" stroke-width="0.6"/>
<line x1="601.40" y1="139.20" x2="614.60" y2="139.20" stroke="#000" stroke-opacity="0.35" stroke-width="0.6"/>
<line x1="601.40" y1="164.20" x2="614.60" y2="164.20" stroke="#000" stroke-opacity="0.35" stroke-width="0.6"/>
<line x1="601.40" y1="189.20" x2="614.60" y2="189.20" stroke="#000" stroke-opacity="0.35" stroke-width="0.6"/>
<line x1="601.40" y1="214.20" x2="614.60" y2="214.20" stroke="#000" stroke-opacity="0.35" stroke-width="0.6"/>
<line x1="601.40" y1="239.20" x2="614.60" y2="239.20" stroke="#000" stroke-opacity="0.35" stroke-width="0.6"/>
<line x1="601.40" y1="264.20" x2="614.60" y2="264.20" stroke="#000" stroke-opacity="0.35" stroke-width="0.6"/>
<line x1="601.40" y1="289.20" x2="614.60" y2="289.20" stroke="#000" stroke-opacity="0.35" stroke-width="0.6"/>
<line x1="601.40" y1="314.20" x2="614.60" y2="314.20" stroke="#000" stroke-opacity="0.35" stroke-width="0.6"/>
<line x1="601.40" y1="339.20" x2="614.60" y2="339.20" stroke="#000" stroke-opacity="0.35" stroke-width="0.6"/>
<line x1="601.40" y1="364.20" x2="614.60" y2="364.20" stroke="#000" stroke-opacity="0.35" stroke-width="0.6"/>
<line x1="601.40" y1="389.20" x2="614.60" y2="389.20" stroke="#000" stroke-opacity="0.35" stroke-width="0.6"/>
<line x1="601.40" y1="414.20" x2="614.60" y2="414.20" stroke="#000" stroke-opacity="0.35" stroke-width="0.6"/>
<line x1="601.40" y1="439.20" x2="614.60" y2="439.20" stroke="#000" stroke-opacity="0.35" stroke-width="0.6"/>
<line x1="601.40" y1="464.20" x2="614.60" y2="464.20" stroke="#000" stroke-opacity="0.35" stroke-width="0.6"/>
<line x1="601.40" y1="489.20" x2="614.60" y2="489.20" stroke="#000" stroke-opacity="0.35" stroke-width="0.6"/>
<line x1="601.40" y1="514.20" x2="614.60" y2="514.20" stroke="#000" stroke-opacity="0.35" stroke-width="0.6"/>
<path d="M601.40 39.20 L608.00 18.40 L614.60 39.20 Z" fill="#c80000" stroke="#000" stroke-width="1.4" stroke-linejoin="miter"/>
<path d="M601.40 539.20 L608.00 560.00 L614.60 539.20 Z" fill="#8200aa" stroke="#000" stroke-width="1.4" stroke-linejoin="miter"/>
<rect x="601.40" y="39.20" width="13.20" height="500.00" fill="none" stroke="#000" stroke-width="1.4"/>
<text transform="translate(629.30 44.90) scale(1.07 1)" font-family="Liberation Sans" font-size="15.5" font-weight="normal" text-anchor="start">0.95</text>
<text transform="translate(629.30 69.90) scale(1.07 1)" font-family="Liberation Sans" font-size="15.5" font-weight="normal" text-anchor="start">0.90</text>
<text transform="translate(629.30 94.90) scale(1.07 1)" font-family="Liberation Sans" font-size="15.5" font-weight="normal" text-anchor="start">0.85</text>
<text transform="translate(629.30 119.90) scale(1.07 1)" font-family="Liberation Sans" font-size="15.5" font-weight="normal" text-anchor="start">0.80</text>
<text transform="translate(629.30 144.90) scale(1.07 1)" font-family="Liberation Sans" font-size="15.5" font-weight="normal" text-anchor="start">0.75</text>
<text transform="translate(629.30 169.90) scale(1.07 1)" font-family="Liberation Sans" font-size="15.5" font-weight="normal" text-anchor="start">0.70</text>
<text transform="translate(629.30 194.90) scale(1.07 1)" font-family="Liberation Sans" font-size="15.5" font-weight="normal" text-anchor="start">0.65</text>
<text transform="translate(629.30 219.90) scale(1.07 1)" font-family="Liberation Sans" font-size="15.5" font-weight="normal" text-anchor="start">0.60</text>
<text transform="translate(629.30 244.90) scale(1.07 1)" font-family="Liberation Sans" font-size="15.5" font-weight="normal" text-anchor="start">0.55</text>
<text transform="translate(629.30 269.90) scale(1.07 1)" font-family="Liberation Sans" font-size="15.5" font-weight="normal" text-anchor="start">0.50</text>
<text transform="translate(629.30 294.90) scale(1.07 1)" font-family="Liberation Sans" font-size="15.5" font-weight="normal" text-anchor="start">0.45</text>
<text transform="translate(629.30 319.90) scale(1.07 1)" font-family="Liberation Sans" font-size="15.5" font-weight="normal" text-anchor="start">0.40</text>
<text transform="translate(629.30 344.90) scale(1.07 1)" font-family="Liberation Sans" font-size="15.5" font-weight="normal" text-anchor="start">0.35</text>
<text transform="translate(629.30 369.90) scale(1.07 1)" font-family="Liberation Sans" font-size="15.5" font-weight="normal" text-anchor="start">0.30</text>
<text transform="translate(629.30 394.90) scale(1.07 1)" font-family="Liberation Sans" font-size="15.5" font-weight="normal" text-anchor="start">0.25</text>
<text transform="translate(629.30 419.90) scale(1.07 1)" font-family="Liberation Sans" font-size="15.5" font-weight="normal" text-anchor="start">0.20</text>
<text transform="translate(629.30 444.90) scale(1.07 1)" font-family="Liberation Sans" font-size="15.5" font-weight="normal" text-anchor="start">0.15</text>
<text transform="translate(629.30 469.90) scale(1.07 1)" font-family="Liberation Sans" font-size="15.5" font-weight="normal" text-anchor="start">0.10</text>
<text transform="translate(629.30 494.90) scale(1.07 1)" font-family="Liberation Sans" font-size="15.5" font-weight="normal" text-anchor="start">0.05</text>
<text transform="translate(629.30 519.90) scale(1.07 1)" font-family="Liberation Sans" font-size="15.5" font-weight="normal" text-anchor="start">0.00</text>
<text transform="translate(629.30 544.90) scale(1.07 1)" font-family="Liberation Sans" font-size="15.5" font-weight="normal" text-anchor="start">0.05</text>
<text transform="translate(628.80 544.90) scale(1.07 1)" font-family="Liberation Sans" font-size="15.5" font-weight="normal" text-anchor="end">−</text>
</g>
<g transform="translate(689 0)">
<rect x="46.50" y="18.45" width="78.34" height="91.70" fill="#ff6e14"/>
<rect x="123.84" y="18.45" width="78.34" height="91.70" fill="#fe9b18"/>
<rect x="201.19" y="18.45" width="78.34" height="91.70" fill="#ffd21e"/>
<rect x="278.53" y="18.45" width="78.34" height="91.70" fill="#ffff1e"/>
<rect x="355.87" y="18.45" width="78.34" height="91.70" fill="#fffcd2"/>
<rect x="433.21" y="18.45" width="78.34" height="91.70" fill="#00aa50"/>
<rect x="510.56" y="18.45" width="77.34" height="91.70" fill="#00e696"/>
<rect x="46.50" y="109.15" width="78.34" height="90.65" fill="#fe9b18"/>
<rect x="123.84" y="109.15" width="78.34" height="90.65" fill="#fe9b18"/>
<rect x="201.19" y="109.15" width="78.34" height="90.65" fill="#ffd21e"/>
<rect x="278.53" y="109.15" width="78.34" height="90.65" fill="#ffff1e"/>
<rect x="355.87" y="109.15" width="78.34" height="90.65" fill="#6efa0a"/>
<rect x="433.21" y="109.15" width="78.34" height="90.65" fill="#00e696"/>
<rect x="510.56" y="109.15" width="77.34" height="90.65" fill="#00ffff"/>
<rect x="46.50" y="198.80" width="78.34" height="91.70" fill="#fe9b18"/>
<rect x="123.84" y="198.80" width="78.34" height="91.70" fill="#ffd21e"/>
<rect x="201.19" y="198.80" width="78.34" height="91.70" fill="#ffff1e"/>
<rect x="278.53" y="198.80" width="78.34" height="91.70" fill="#fffcd2"/>
<rect x="355.87" y="198.80" width="78.34" height="91.70" fill="#00aa50"/>
<rect x="433.21" y="198.80" width="78.34" height="91.70" fill="#00ffff"/>
<rect x="510.56" y="198.80" width="77.34" height="91.70" fill="#9191fa"/>
<rect x="46.50" y="289.50" width="78.34" height="90.75" fill="#ffd21e"/>
<rect x="123.84" y="289.50" width="78.34" height="90.75" fill="#ffd21e"/>
<rect x="201.19" y="289.50" width="78.34" height="90.75" fill="#ffff1e"/>
<rect x="278.53" y="289.50" width="78.34" height="90.75" fill="#6efa0a"/>
<rect x="355.87" y="289.50" width="78.34" height="90.75" fill="#00aa50"/>
<rect x="433.21" y="289.50" width="78.34" height="90.75" fill="#aaaae6"/>
<rect x="510.56" y="289.50" width="77.34" height="90.75" fill="#5e5efc"/>
<rect x="46.50" y="379.25" width="78.34" height="91.05" fill="#ffff1e"/>
<rect x="123.84" y="379.25" width="78.34" height="91.05" fill="#ffff1e"/>
<rect x="201.19" y="379.25" width="78.34" height="91.05" fill="#fffcd2"/>
<rect x="278.53" y="379.25" width="78.34" height="91.05" fill="#00aa50"/>
<rect x="355.87" y="379.25" width="78.34" height="91.05" fill="#00ffff"/>
<rect x="433.21" y="379.25" width="78.34" height="91.05" fill="#9191fa"/>
<rect x="510.56" y="379.25" width="77.34" height="91.05" fill="#2a2af8"/>
<rect x="46.50" y="469.30" width="78.34" height="90.50" fill="#ffff1e"/>
<rect x="123.84" y="469.30" width="78.34" height="90.50" fill="#fffcd2"/>
<rect x="201.19" y="469.30" width="78.34" height="90.50" fill="#6efa0a"/>
<rect x="278.53" y="469.30" width="78.34" height="90.50" fill="#00e696"/>
<rect x="355.87" y="469.30" width="78.34" height="90.50" fill="#00ffff"/>
<rect x="433.21" y="469.30" width="78.34" height="90.50" fill="#5e5efc"/>
<rect x="510.56" y="469.30" width="77.34" height="90.50" fill="#a000dc"/>
<rect x="46.50" y="18.45" width="541.40" height="541.35" fill="none" stroke="#3a3a3a" stroke-width="0.9"/>
<text transform="translate(85.17 69.30) scale(1.105 1)" font-family="Liberation Mono" font-size="15.2" font-weight="normal" text-anchor="middle" stroke="#000" stroke-width="0.32">0.65</text>
<text transform="translate(162.51 69.30) scale(1.105 1)" font-family="Liberation Mono" font-size="15.2" font-weight="normal" text-anchor="middle" stroke="#000" stroke-width="0.32">0.65</text>
<text transform="translate(239.86 69.30) scale(1.105 1)" font-family="Liberation Mono" font-size="15.2" font-weight="normal" text-anchor="middle" stroke="#000" stroke-width="0.32">0.59</text>
<text transform="translate(317.20 69.30) scale(1.105 1)" font-family="Liberation Mono" font-size="15.2" font-weight="normal" text-anchor="middle" stroke="#000" stroke-width="0.32">0.54</text>
<text transform="translate(394.54 69.30) scale(1.105 1)" font-family="Liberation Mono" font-size="15.2" font-weight="normal" text-anchor="middle" stroke="#000" stroke-width="0.32">0.47</text>
<text transform="translate(471.89 69.30) scale(1.105 1)" font-family="Liberation Mono" font-size="15.2" font-weight="normal" text-anchor="middle" stroke="#000" stroke-width="0.32">0.39</text>
<text transform="translate(549.23 69.30) scale(1.105 1)" font-family="Liberation Mono" font-size="15.2" font-weight="normal" text-anchor="middle" stroke="#000" stroke-width="0.32">0.33</text>
<text transform="translate(85.17 159.46) scale(1.105 1)" font-family="Liberation Mono" font-size="15.2" font-weight="normal" text-anchor="middle" stroke="#000" stroke-width="0.32">0.64</text>
<text transform="translate(162.51 159.46) scale(1.105 1)" font-family="Liberation Mono" font-size="15.2" font-weight="normal" text-anchor="middle" stroke="#000" stroke-width="0.32">0.63</text>
<text transform="translate(239.86 159.46) scale(1.105 1)" font-family="Liberation Mono" font-size="15.2" font-weight="normal" text-anchor="middle" stroke="#000" stroke-width="0.32">0.57</text>
<text transform="translate(317.20 159.46) scale(1.105 1)" font-family="Liberation Mono" font-size="15.2" font-weight="normal" text-anchor="middle" stroke="#000" stroke-width="0.32">0.52</text>
<text transform="translate(394.54 159.46) scale(1.105 1)" font-family="Liberation Mono" font-size="15.2" font-weight="normal" text-anchor="middle" stroke="#000" stroke-width="0.32">0.44</text>
<text transform="translate(471.89 159.46) scale(1.105 1)" font-family="Liberation Mono" font-size="15.2" font-weight="normal" text-anchor="middle" stroke="#000" stroke-width="0.32">0.35</text>
<text transform="translate(549.23 159.46) scale(1.105 1)" font-family="Liberation Mono" font-size="15.2" font-weight="normal" text-anchor="middle" stroke="#000" stroke-width="0.32">0.28</text>
<text transform="translate(85.17 249.62) scale(1.105 1)" font-family="Liberation Mono" font-size="15.2" font-weight="normal" text-anchor="middle" stroke="#000" stroke-width="0.32">0.61</text>
<text transform="translate(162.51 249.62) scale(1.105 1)" font-family="Liberation Mono" font-size="15.2" font-weight="normal" text-anchor="middle" stroke="#000" stroke-width="0.32">0.60</text>
<text transform="translate(239.86 249.62) scale(1.105 1)" font-family="Liberation Mono" font-size="15.2" font-weight="normal" text-anchor="middle" stroke="#000" stroke-width="0.32">0.54</text>
<text transform="translate(317.20 249.62) scale(1.105 1)" font-family="Liberation Mono" font-size="15.2" font-weight="normal" text-anchor="middle" stroke="#000" stroke-width="0.32">0.48</text>
<text transform="translate(394.54 249.62) scale(1.105 1)" font-family="Liberation Mono" font-size="15.2" font-weight="normal" text-anchor="middle" stroke="#000" stroke-width="0.32">0.39</text>
<text transform="translate(471.89 249.62) scale(1.105 1)" font-family="Liberation Mono" font-size="15.2" font-weight="normal" text-anchor="middle" stroke="#000" stroke-width="0.32">0.28</text>
<text transform="translate(549.23 249.62) scale(1.105 1)" font-family="Liberation Mono" font-size="15.2" font-weight="normal" text-anchor="middle" stroke="#000" stroke-width="0.32">0.19</text>
<text transform="translate(85.17 339.78) scale(1.105 1)" font-family="Liberation Mono" font-size="15.2" font-weight="normal" text-anchor="middle" stroke="#000" stroke-width="0.32">0.59</text>
<text transform="translate(162.51 339.78) scale(1.105 1)" font-family="Liberation Mono" font-size="15.2" font-weight="normal" text-anchor="middle" stroke="#000" stroke-width="0.32">0.57</text>
<text transform="translate(239.86 339.78) scale(1.105 1)" font-family="Liberation Mono" font-size="15.2" font-weight="normal" text-anchor="middle" stroke="#000" stroke-width="0.32">0.51</text>
<text transform="translate(317.20 339.78) scale(1.105 1)" font-family="Liberation Mono" font-size="15.2" font-weight="normal" text-anchor="middle" stroke="#000" stroke-width="0.32">0.44</text>
<text transform="translate(394.54 339.78) scale(1.105 1)" font-family="Liberation Mono" font-size="15.2" font-weight="normal" text-anchor="middle" stroke="#000" stroke-width="0.32">0.35</text>
<text transform="translate(471.89 339.78) scale(1.105 1)" font-family="Liberation Mono" font-size="15.2" font-weight="normal" text-anchor="middle" stroke="#000" stroke-width="0.32">0.23</text>
<text transform="translate(549.23 339.78) scale(1.105 1)" font-family="Liberation Mono" font-size="15.2" font-weight="normal" text-anchor="middle" stroke="#000" stroke-width="0.32">0.14</text>
<text transform="translate(85.17 429.94) scale(1.105 1)" font-family="Liberation Mono" font-size="15.2" font-weight="normal" text-anchor="middle" stroke="#000" stroke-width="0.32">0.54</text>
<text transform="translate(162.51 429.94) scale(1.105 1)" font-family="Liberation Mono" font-size="15.2" font-weight="normal" text-anchor="middle" stroke="#000" stroke-width="0.32">0.52</text>
<text transform="translate(239.86 429.94) scale(1.105 1)" font-family="Liberation Mono" font-size="15.2" font-weight="normal" text-anchor="middle" stroke="#000" stroke-width="0.32">0.45</text>
<text transform="translate(317.20 429.94) scale(1.105 1)" font-family="Liberation Mono" font-size="15.2" font-weight="normal" text-anchor="middle" stroke="#000" stroke-width="0.32">0.38</text>
<text transform="translate(394.54 429.94) scale(1.105 1)" font-family="Liberation Mono" font-size="15.2" font-weight="normal" text-anchor="middle" stroke="#000" stroke-width="0.32">0.28</text>
<text transform="translate(471.89 429.94) scale(1.105 1)" font-family="Liberation Mono" font-size="15.2" font-weight="normal" text-anchor="middle" stroke="#000" stroke-width="0.32">0.16</text>
<text transform="translate(549.23 429.94) scale(1.105 1)" font-family="Liberation Mono" font-size="15.2" font-weight="normal" text-anchor="middle" stroke="#000" stroke-width="0.32">0.07</text>
<text transform="translate(85.17 520.10) scale(1.105 1)" font-family="Liberation Mono" font-size="15.2" font-weight="normal" text-anchor="middle" stroke="#000" stroke-width="0.32">0.52</text>
<text transform="translate(162.51 520.10) scale(1.105 1)" font-family="Liberation Mono" font-size="15.2" font-weight="normal" text-anchor="middle" stroke="#000" stroke-width="0.32">0.49</text>
<text transform="translate(239.86 520.10) scale(1.105 1)" font-family="Liberation Mono" font-size="15.2" font-weight="normal" text-anchor="middle" stroke="#000" stroke-width="0.32">0.43</text>
<text transform="translate(317.20 520.10) scale(1.105 1)" font-family="Liberation Mono" font-size="15.2" font-weight="normal" text-anchor="middle" stroke="#000" stroke-width="0.32">0.35</text>
<text transform="translate(394.54 520.10) scale(1.105 1)" font-family="Liberation Mono" font-size="15.2" font-weight="normal" text-anchor="middle" stroke="#000" stroke-width="0.32">0.25</text>
<text transform="translate(471.89 520.10) scale(1.105 1)" font-family="Liberation Mono" font-size="15.2" font-weight="normal" text-anchor="middle" stroke="#000" stroke-width="0.32">0.14</text>
<text transform="translate(549.23 520.10) scale(1.105 1)" font-family="Liberation Mono" font-size="15.2" font-weight="normal" text-anchor="middle" stroke="#000" stroke-width="0.32">0.05</text>
<text transform="translate(43.90 69.60) scale(1.04 1)" font-family="Liberation Serif" font-size="17.0" font-weight="normal" text-anchor="end">50</text>
<text transform="translate(43.90 159.76) scale(1.04 1)" font-family="Liberation Serif" font-size="17.0" font-weight="normal" text-anchor="end">40</text>
<text transform="translate(43.90 249.92) scale(1.04 1)" font-family="Liberation Serif" font-size="17.0" font-weight="normal" text-anchor="end">30</text>
<text transform="translate(43.90 340.08) scale(1.04 1)" font-family="Liberation Serif" font-size="17.0" font-weight="normal" text-anchor="end">20</text>
<text transform="translate(43.90 430.24) scale(1.04 1)" font-family="Liberation Serif" font-size="17.0" font-weight="normal" text-anchor="end">10</text>
<text transform="translate(43.90 520.40) scale(1.04 1)" font-family="Liberation Serif" font-size="17.0" font-weight="normal" text-anchor="end">06</text>
<text transform="translate(85.17 577.30) scale(1.06 1)" font-family="Liberation Serif" font-size="15.5" font-weight="normal" text-anchor="middle">01</text>
<text transform="translate(162.51 577.30) scale(1.06 1)" font-family="Liberation Serif" font-size="15.5" font-weight="normal" text-anchor="middle">02</text>
<text transform="translate(239.86 577.30) scale(1.06 1)" font-family="Liberation Serif" font-size="15.5" font-weight="normal" text-anchor="middle">05</text>
<text transform="translate(317.20 577.30) scale(1.06 1)" font-family="Liberation Serif" font-size="15.5" font-weight="normal" text-anchor="middle">10</text>
<text transform="translate(394.54 577.30) scale(1.06 1)" font-family="Liberation Serif" font-size="15.5" font-weight="normal" text-anchor="middle">20</text>
<text transform="translate(471.89 577.30) scale(1.06 1)" font-family="Liberation Serif" font-size="15.5" font-weight="normal" text-anchor="middle">50</text>
<text transform="translate(549.23 577.30) scale(1.06 1)" font-family="Liberation Serif" font-size="15.5" font-weight="normal" text-anchor="middle">100</text>
<text transform="translate(316.80 596.00) scale(1.075 1)" font-family="Liberation Serif" font-size="17.2" font-weight="normal" text-anchor="middle" word-spacing="1.5">Threshold (mm)</text>
<text transform="translate(13.20 291.40) rotate(-90) scale(1.127 1)" font-family="Liberation Serif" font-size="16.4" text-anchor="middle" word-spacing="2.9">Spatial scale (km)</text>
<text transform="translate(675.10 286.00) rotate(90) scale(1.127 1)" font-family="Liberation Serif" font-size="16.4" text-anchor="middle" word-spacing="4.2">Fraction skill score</text>
<text transform="translate(47.60 12.00) scale(1.088 1)" font-family="Liberation Mono" font-size="17.2" font-weight="normal" text-anchor="start" xml:space="preserve" style="white-space:pre" stroke="#000" stroke-width="0.42">Ctl 4DEnVar1600</text>
<text transform="translate(587.40 12.00) scale(1.088 1)" font-family="Liberation Mono" font-size="17.2" font-weight="normal" text-anchor="end" xml:space="preserve" style="white-space:pre" stroke="#000" stroke-width="0.42">RR03H  06-12h  Fukushima</text>
<text transform="translate(47.60 597.00) scale(1.209 1)" font-family="Liberation Mono" font-size="13.9" font-weight="normal" text-anchor="start" xml:space="preserve" style="white-space:pre" stroke="#000" stroke-width="0.3">Start: 201107271200</text>
<text transform="translate(586.60 597.00) scale(1.209 1)" font-family="Liberation Mono" font-size="13.9" font-weight="normal" text-anchor="end" xml:space="preserve" style="white-space:pre" stroke="#000" stroke-width="0.3">End: 201107291200</text>
<text transform="translate(5.30 14.80) scale(0.975 1)" font-family="Liberation Sans" font-size="15.5" font-weight="bold" text-anchor="start">(c)</text>
<rect x="601.40" y="39.20" width="13.20" height="25.20" fill="#be0000"/>
<rect x="601.40" y="64.20" width="13.20" height="25.20" fill="#d20000"/>
<rect x="601.40" y="89.20" width="13.20" height="25.20" fill="#e60000"/>
<rect x="601.40" y="114.20" width="13.20" height="25.20" fill="#ff0000"/>
<rect x="601.40" y="139.20" width="13.20" height="25.20" fill="#f83611"/>
<rect x="601.40" y="164.20" width="13.20" height="25.20" fill="#ff6e14"/>
<rect x="601.40" y="189.20" width="13.20" height="25.20" fill="#fe9b18"/>
<rect x="601.40" y="214.20" width="13.20" height="25.20" fill="#ffd21e"/>
<rect x="601.40" y="239.20" width="13.20" height="25.20" fill="#ffff1e"/>
<rect x="601.40" y="264.20" width="13.20" height="25.20" fill="#fffcd2"/>
<rect x="601.40" y="289.20" width="13.20" height="25.20" fill="#6efa0a"/>
<rect x="601.40" y="314.20" width="13.20" height="25.20" fill="#00aa50"/>
<rect x="601.40" y="339.20" width="13.20" height="25.20" fill="#00e696"/>
<rect x="601.40" y="364.20" width="13.20" height="25.20" fill="#00ffff"/>
<rect x="601.40" y="389.20" width="13.20" height="25.20" fill="#aaaae6"/>
<rect x="601.40" y="414.20" width="13.20" height="25.20" fill="#9191fa"/>
<rect x="601.40" y="439.20" width="13.20" height="25.20" fill="#5e5efc"/>
<rect x="601.40" y="464.20" width="13.20" height="25.20" fill="#2a2af8"/>
<rect x="601.40" y="489.20" width="13.20" height="25.20" fill="#a000dc"/>
<rect x="601.40" y="514.20" width="13.20" height="25.20" fill="#6e0096"/>
<line x1="601.40" y1="64.20" x2="614.60" y2="64.20" stroke="#000" stroke-opacity="0.35" stroke-width="0.6"/>
<line x1="601.40" y1="89.20" x2="614.60" y2="89.20" stroke="#000" stroke-opacity="0.35" stroke-width="0.6"/>
<line x1="601.40" y1="114.20" x2="614.60" y2="114.20" stroke="#000" stroke-opacity="0.35" stroke-width="0.6"/>
<line x1="601.40" y1="139.20" x2="614.60" y2="139.20" stroke="#000" stroke-opacity="0.35" stroke-width="0.6"/>
<line x1="601.40" y1="164.20" x2="614.60" y2="164.20" stroke="#000" stroke-opacity="0.35" stroke-width="0.6"/>
<line x1="601.40" y1="189.20" x2="614.60" y2="189.20" stroke="#000" stroke-opacity="0.35" stroke-width="0.6"/>
<line x1="601.40" y1="214.20" x2="614.60" y2="214.20" stroke="#000" stroke-opacity="0.35" stroke-width="0.6"/>
<line x1="601.40" y1="239.20" x2="614.60" y2="239.20" stroke="#000" stroke-opacity="0.35" stroke-width="0.6"/>
<line x1="601.40" y1="264.20" x2="614.60" y2="264.20" stroke="#000" stroke-opacity="0.35" stroke-width="0.6"/>
<line x1="601.40" y1="289.20" x2="614.60" y2="289.20" stroke="#000" stroke-opacity="0.35" stroke-width="0.6"/>
<line x1="601.40" y1="314.20" x2="614.60" y2="314.20" stroke="#000" stroke-opacity="0.35" stroke-width="0.6"/>
<line x1="601.40" y1="339.20" x2="614.60" y2="339.20" stroke="#000" stroke-opacity="0.35" stroke-width="0.6"/>
<line x1="601.40" y1="364.20" x2="614.60" y2="364.20" stroke="#000" stroke-opacity="0.35" stroke-width="0.6"/>
<line x1="601.40" y1="389.20" x2="614.60" y2="389.20" stroke="#000" stroke-opacity="0.35" stroke-width="0.6"/>
<line x1="601.40" y1="414.20" x2="614.60" y2="414.20" stroke="#000" stroke-opacity="0.35" stroke-width="0.6"/>
<line x1="601.40" y1="439.20" x2="614.60" y2="439.20" stroke="#000" stroke-opacity="0.35" stroke-width="0.6"/>
<line x1="601.40" y1="464.20" x2="614.60" y2="464.20" stroke="#000" stroke-opacity="0.35" stroke-width="0.6"/>
<line x1="601.40" y1="489.20" x2="614.60" y2="489.20" stroke="#000" stroke-opacity="0.35" stroke-width="0.6"/>
<line x1="601.40" y1="514.20" x2="614.60" y2="514.20" stroke="#000" stroke-opacity="0.35" stroke-width="0.6"/>
<path d="M601.40 39.20 L608.00 18.40 L614.60 39.20 Z" fill="#c80000" stroke="#000" stroke-width="1.4" stroke-linejoin="miter"/>
<path d="M601.40 539.20 L608.00 560.00 L614.60 539.20 Z" fill="#8200aa" stroke="#000" stroke-width="1.4" stroke-linejoin="miter"/>
<rect x="601.40" y="39.20" width="13.20" height="500.00" fill="none" stroke="#000" stroke-width="1.4"/>
<text transform="translate(629.30 44.90) scale(1.07 1)" font-family="Liberation Sans" font-size="15.5" font-weight="normal" text-anchor="start">0.95</text>
<text transform="translate(629.30 69.90) scale(1.07 1)" font-family="Liberation Sans" font-size="15.5" font-weight="normal" text-anchor="start">0.90</text>
<text transform="translate(629.30 94.90) scale(1.07 1)" font-family="Liberation Sans" font-size="15.5" font-weight="normal" text-anchor="start">0.85</text>
<text transform="translate(629.30 119.90) scale(1.07 1)" font-family="Liberation Sans" font-size="15.5" font-weight="normal" text-anchor="start">0.80</text>
<text transform="translate(629.30 144.90) scale(1.07 1)" font-family="Liberation Sans" font-size="15.5" font-weight="normal" text-anchor="start">0.75</text>
<text transform="translate(629.30 169.90) scale(1.07 1)" font-family="Liberation Sans" font-size="15.5" font-weight="normal" text-anchor="start">0.70</text>
<text transform="translate(629.30 194.90) scale(1.07 1)" font-family="Liberation Sans" font-size="15.5" font-weight="normal" text-anchor="start">0.65</text>
<text transform="translate(629.30 219.90) scale(1.07 1)" font-family="Liberation Sans" font-size="15.5" font-weight="normal" text-anchor="start">0.60</text>
<text transform="translate(629.30 244.90) scale(1.07 1)" font-family="Liberation Sans" font-size="15.5" font-weight="normal" text-anchor="start">0.55</text>
<text transform="translate(629.30 269.90) scale(1.07 1)" font-family="Liberation Sans" font-size="15.5" font-weight="normal" text-anchor="start">0.50</text>
<text transform="translate(629.30 294.90) scale(1.07 1)" font-family="Liberation Sans" font-size="15.5" font-weight="normal" text-anchor="start">0.45</text>
<text transform="translate(629.30 319.90) scale(1.07 1)" font-family="Liberation Sans" font-size="15.5" font-weight="normal" text-anchor="start">0.40</text>
<text transform="translate(629.30 344.90) scale(1.07 1)" font-family="Liberation Sans" font-size="15.5" font-weight="normal" text-anchor="start">0.35</text>
<text transform="translate(629.30 369.90) scale(1.07 1)" font-family="Liberation Sans" font-size="15.5" font-weight="normal" text-anchor="start">0.30</text>
<text transform="translate(629.30 394.90) scale(1.07 1)" font-family="Liberation Sans" font-size="15.5" font-weight="normal" text-anchor="start">0.25</text>
<text transform="translate(629.30 419.90) scale(1.07 1)" font-family="Liberation Sans" font-size="15.5" font-weight="normal" text-anchor="start">0.20</text>
<text transform="translate(629.30 444.90) scale(1.07 1)" font-family="Liberation Sans" font-size="15.5" font-weight="normal" text-anchor="start">0.15</text>
<text transform="translate(629.30 469.90) scale(1.07 1)" font-family="Liberation Sans" font-size="15.5" font-weight="normal" text-anchor="start">0.10</text>
<text transform="translate(629.30 494.90) scale(1.07 1)" font-family="Liberation Sans" font-size="15.5" font-weight="normal" text-anchor="start">0.05</text>
<text transform="translate(629.30 519.90) scale(1.07 1)" font-family="Liberation Sans" font-size="15.5" font-weight="normal" text-anchor="start">0.00</text>
<text transform="translate(629.30 544.90) scale(1.07 1)" font-family="Liberation Sans" font-size="15.5" font-weight="normal" text-anchor="start">0.05</text>
<text transform="translate(628.80 544.90) scale(1.07 1)" font-family="Liberation Sans" font-size="15.5" font-weight="normal" text-anchor="end">−</text>
</g>
<g transform="translate(689 600)">
<rect x="46.50" y="18.45" width="78.34" height="91.70" fill="#ffff1e"/>
<rect x="123.84" y="18.45" width="78.34" height="91.70" fill="#ffff1e"/>
<rect x="201.19" y="18.45" width="78.34" height="91.70" fill="#fffcd2"/>
<rect x="278.53" y="18.45" width="78.34" height="91.70" fill="#fffcd2"/>
<rect x="355.87" y="18.45" width="78.34" height="91.70" fill="#6efa0a"/>
<rect x="433.21" y="18.45" width="78.34" height="91.70" fill="#00aa50"/>
<rect x="510.56" y="18.45" width="77.34" height="91.70" fill="#00ffff"/>
<rect x="46.50" y="109.15" width="78.34" height="90.65" fill="#ffff1e"/>
<rect x="123.84" y="109.15" width="78.34" height="90.65" fill="#ffff1e"/>
<rect x="201.19" y="109.15" width="78.34" height="90.65" fill="#fffcd2"/>
<rect x="278.53" y="109.15" width="78.34" height="90.65" fill="#fffcd2"/>
<rect x="355.87" y="109.15" width="78.34" height="90.65" fill="#6efa0a"/>
<rect x="433.21" y="109.15" width="78.34" height="90.65" fill="#00e696"/>
<rect x="510.56" y="109.15" width="77.34" height="90.65" fill="#aaaae6"/>
<rect x="46.50" y="198.80" width="78.34" height="91.70" fill="#fffcd2"/>
<rect x="123.84" y="198.80" width="78.34" height="91.70" fill="#fffcd2"/>
<rect x="201.19" y="198.80" width="78.34" height="91.70" fill="#6efa0a"/>
<rect x="278.53" y="198.80" width="78.34" height="91.70" fill="#6efa0a"/>
<rect x="355.87" y="198.80" width="78.34" height="91.70" fill="#00aa50"/>
<rect x="433.21" y="198.80" width="78.34" height="91.70" fill="#00ffff"/>
<rect x="510.56" y="198.80" width="77.34" height="91.70" fill="#5e5efc"/>
<rect x="46.50" y="289.50" width="78.34" height="90.75" fill="#fffcd2"/>
<rect x="123.84" y="289.50" width="78.34" height="90.75" fill="#6efa0a"/>
<rect x="201.19" y="289.50" width="78.34" height="90.75" fill="#6efa0a"/>
<rect x="278.53" y="289.50" width="78.34" height="90.75" fill="#00aa50"/>
<rect x="355.87" y="289.50" width="78.34" height="90.75" fill="#00e696"/>
<rect x="433.21" y="289.50" width="78.34" height="90.75" fill="#aaaae6"/>
<rect x="510.56" y="289.50" width="77.34" height="90.75" fill="#5e5efc"/>
<rect x="46.50" y="379.25" width="78.34" height="91.05" fill="#6efa0a"/>
<rect x="123.84" y="379.25" width="78.34" height="91.05" fill="#6efa0a"/>
<rect x="201.19" y="379.25" width="78.34" height="91.05" fill="#00aa50"/>
<rect x="278.53" y="379.25" width="78.34" height="91.05" fill="#00e696"/>
<rect x="355.87" y="379.25" width="78.34" height="91.05" fill="#00ffff"/>
<rect x="433.21" y="379.25" width="78.34" height="91.05" fill="#9191fa"/>
<rect x="510.56" y="379.25" width="77.34" height="91.05" fill="#2a2af8"/>
<rect x="46.50" y="469.30" width="78.34" height="90.50" fill="#00aa50"/>
<rect x="123.84" y="469.30" width="78.34" height="90.50" fill="#00aa50"/>
<rect x="201.19" y="469.30" width="78.34" height="90.50" fill="#00e696"/>
<rect x="278.53" y="469.30" width="78.34" height="90.50" fill="#00ffff"/>
<rect x="355.87" y="469.30" width="78.34" height="90.50" fill="#aaaae6"/>
<rect x="433.21" y="469.30" width="78.34" height="90.50" fill="#5e5efc"/>
<rect x="510.56" y="469.30" width="77.34" height="90.50" fill="#2a2af8"/>
<rect x="46.50" y="18.45" width="541.40" height="541.35" fill="none" stroke="#3a3a3a" stroke-width="0.9"/>
<text transform="translate(85.17 69.30) scale(1.105 1)" font-family="Liberation Mono" font-size="15.2" font-weight="normal" text-anchor="middle" stroke="#000" stroke-width="0.32">0.52</text>
<text transform="translate(162.51 69.30) scale(1.105 1)" font-family="Liberation Mono" font-size="15.2" font-weight="normal" text-anchor="middle" stroke="#000" stroke-width="0.32">0.53</text>
<text transform="translate(239.86 69.30) scale(1.105 1)" font-family="Liberation Mono" font-size="15.2" font-weight="normal" text-anchor="middle" stroke="#000" stroke-width="0.32">0.49</text>
<text transform="translate(317.20 69.30) scale(1.105 1)" font-family="Liberation Mono" font-size="15.2" font-weight="normal" text-anchor="middle" stroke="#000" stroke-width="0.32">0.49</text>
<text transform="translate(394.54 69.30) scale(1.105 1)" font-family="Liberation Mono" font-size="15.2" font-weight="normal" text-anchor="middle" stroke="#000" stroke-width="0.32">0.44</text>
<text transform="translate(471.89 69.30) scale(1.105 1)" font-family="Liberation Mono" font-size="15.2" font-weight="normal" text-anchor="middle" stroke="#000" stroke-width="0.32">0.35</text>
<text transform="translate(549.23 69.30) scale(1.105 1)" font-family="Liberation Mono" font-size="15.2" font-weight="normal" text-anchor="middle" stroke="#000" stroke-width="0.32">0.25</text>
<text transform="translate(85.17 159.46) scale(1.105 1)" font-family="Liberation Mono" font-size="15.2" font-weight="normal" text-anchor="middle" stroke="#000" stroke-width="0.32">0.51</text>
<text transform="translate(162.51 159.46) scale(1.105 1)" font-family="Liberation Mono" font-size="15.2" font-weight="normal" text-anchor="middle" stroke="#000" stroke-width="0.32">0.51</text>
<text transform="translate(239.86 159.46) scale(1.105 1)" font-family="Liberation Mono" font-size="15.2" font-weight="normal" text-anchor="middle" stroke="#000" stroke-width="0.32">0.47</text>
<text transform="translate(317.20 159.46) scale(1.105 1)" font-family="Liberation Mono" font-size="15.2" font-weight="normal" text-anchor="middle" stroke="#000" stroke-width="0.32">0.46</text>
<text transform="translate(394.54 159.46) scale(1.105 1)" font-family="Liberation Mono" font-size="15.2" font-weight="normal" text-anchor="middle" stroke="#000" stroke-width="0.32">0.42</text>
<text transform="translate(471.89 159.46) scale(1.105 1)" font-family="Liberation Mono" font-size="15.2" font-weight="normal" text-anchor="middle" stroke="#000" stroke-width="0.32">0.32</text>
<text transform="translate(549.23 159.46) scale(1.105 1)" font-family="Liberation Mono" font-size="15.2" font-weight="normal" text-anchor="middle" stroke="#000" stroke-width="0.32">0.21</text>
<text transform="translate(85.17 249.62) scale(1.105 1)" font-family="Liberation Mono" font-size="15.2" font-weight="normal" text-anchor="middle" stroke="#000" stroke-width="0.32">0.48</text>
<text transform="translate(162.51 249.62) scale(1.105 1)" font-family="Liberation Mono" font-size="15.2" font-weight="normal" text-anchor="middle" stroke="#000" stroke-width="0.32">0.47</text>
<text transform="translate(239.86 249.62) scale(1.105 1)" font-family="Liberation Mono" font-size="15.2" font-weight="normal" text-anchor="middle" stroke="#000" stroke-width="0.32">0.43</text>
<text transform="translate(317.20 249.62) scale(1.105 1)" font-family="Liberation Mono" font-size="15.2" font-weight="normal" text-anchor="middle" stroke="#000" stroke-width="0.32">0.42</text>
<text transform="translate(394.54 249.62) scale(1.105 1)" font-family="Liberation Mono" font-size="15.2" font-weight="normal" text-anchor="middle" stroke="#000" stroke-width="0.32">0.37</text>
<text transform="translate(471.89 249.62) scale(1.105 1)" font-family="Liberation Mono" font-size="15.2" font-weight="normal" text-anchor="middle" stroke="#000" stroke-width="0.32">0.27</text>
<text transform="translate(549.23 249.62) scale(1.105 1)" font-family="Liberation Mono" font-size="15.2" font-weight="normal" text-anchor="middle" stroke="#000" stroke-width="0.32">0.15</text>
<text transform="translate(85.17 339.78) scale(1.105 1)" font-family="Liberation Mono" font-size="15.2" font-weight="normal" text-anchor="middle" stroke="#000" stroke-width="0.32">0.46</text>
<text transform="translate(162.51 339.78) scale(1.105 1)" font-family="Liberation Mono" font-size="15.2" font-weight="normal" text-anchor="middle" stroke="#000" stroke-width="0.32">0.45</text>
<text transform="translate(239.86 339.78) scale(1.105 1)" font-family="Liberation Mono" font-size="15.2" font-weight="normal" text-anchor="middle" stroke="#000" stroke-width="0.32">0.41</text>
<text transform="translate(317.20 339.78) scale(1.105 1)" font-family="Liberation Mono" font-size="15.2" font-weight="normal" text-anchor="middle" stroke="#000" stroke-width="0.32">0.39</text>
<text transform="translate(394.54 339.78) scale(1.105 1)" font-family="Liberation Mono" font-size="15.2" font-weight="normal" text-anchor="middle" stroke="#000" stroke-width="0.32">0.34</text>
<text transform="translate(471.89 339.78) scale(1.105 1)" font-family="Liberation Mono" font-size="15.2" font-weight="normal" text-anchor="middle" stroke="#000" stroke-width="0.32">0.23</text>
<text transform="translate(549.23 339.78) scale(1.105 1)" font-family="Liberation Mono" font-size="15.2" font-weight="normal" text-anchor="middle" stroke="#000" stroke-width="0.32">0.11</text>
<text transform="translate(85.17 429.94) scale(1.105 1)" font-family="Liberation Mono" font-size="15.2" font-weight="normal" text-anchor="middle" stroke="#000" stroke-width="0.32">0.42</text>
<text transform="translate(162.51 429.94) scale(1.105 1)" font-family="Liberation Mono" font-size="15.2" font-weight="normal" text-anchor="middle" stroke="#000" stroke-width="0.32">0.40</text>
<text transform="translate(239.86 429.94) scale(1.105 1)" font-family="Liberation Mono" font-size="15.2" font-weight="normal" text-anchor="middle" stroke="#000" stroke-width="0.32">0.35</text>
<text transform="translate(317.20 429.94) scale(1.105 1)" font-family="Liberation Mono" font-size="15.2" font-weight="normal" text-anchor="middle" stroke="#000" stroke-width="0.32">0.32</text>
<text transform="translate(394.54 429.94) scale(1.105 1)" font-family="Liberation Mono" font-size="15.2" font-weight="normal" text-anchor="middle" stroke="#000" stroke-width="0.32">0.27</text>
<text transform="translate(471.89 429.94) scale(1.105 1)" font-family="Liberation Mono" font-size="15.2" font-weight="normal" text-anchor="middle" stroke="#000" stroke-width="0.32">0.17</text>
<text transform="translate(549.23 429.94) scale(1.105 1)" font-family="Liberation Mono" font-size="15.2" font-weight="normal" text-anchor="middle" stroke="#000" stroke-width="0.32">0.06</text>
<text transform="translate(85.17 520.10) scale(1.105 1)" font-family="Liberation Mono" font-size="15.2" font-weight="normal" text-anchor="middle" stroke="#000" stroke-width="0.32">0.40</text>
<text transform="translate(162.51 520.10) scale(1.105 1)" font-family="Liberation Mono" font-size="15.2" font-weight="normal" text-anchor="middle" stroke="#000" stroke-width="0.32">0.38</text>
<text transform="translate(239.86 520.10) scale(1.105 1)" font-family="Liberation Mono" font-size="15.2" font-weight="normal" text-anchor="middle" stroke="#000" stroke-width="0.32">0.33</text>
<text transform="translate(317.20 520.10) scale(1.105 1)" font-family="Liberation Mono" font-size="15.2" font-weight="normal" text-anchor="middle" stroke="#000" stroke-width="0.32">0.29</text>
<text transform="translate(394.54 520.10) scale(1.105 1)" font-family="Liberation Mono" font-size="15.2" font-weight="normal" text-anchor="middle" stroke="#000" stroke-width="0.32">0.24</text>
<text transform="translate(471.89 520.10) scale(1.105 1)" font-family="Liberation Mono" font-size="15.2" font-weight="normal" text-anchor="middle" stroke="#000" stroke-width="0.32">0.15</text>
<text transform="translate(549.23 520.10) scale(1.105 1)" font-family="Liberation Mono" font-size="15.2" font-weight="normal" text-anchor="middle" stroke="#000" stroke-width="0.32">0.05</text>
<text transform="translate(43.90 69.60) scale(1.04 1)" font-family="Liberation Serif" font-size="17.0" font-weight="normal" text-anchor="end">50</text>
<text transform="translate(43.90 159.76) scale(1.04 1)" font-family="Liberation Serif" font-size="17.0" font-weight="normal" text-anchor="end">40</text>
<text transform="translate(43.90 249.92) scale(1.04 1)" font-family="Liberation Serif" font-size="17.0" font-weight="normal" text-anchor="end">30</text>
<text transform="translate(43.90 340.08) scale(1.04 1)" font-family="Liberation Serif" font-size="17.0" font-weight="normal" text-anchor="end">20</text>
<text transform="translate(43.90 430.24) scale(1.04 1)" font-family="Liberation Serif" font-size="17.0" font-weight="normal" text-anchor="end">10</text>
<text transform="translate(43.90 520.40) scale(1.04 1)" font-family="Liberation Serif" font-size="17.0" font-weight="normal" text-anchor="end">06</text>
<text transform="translate(85.17 577.30) scale(1.06 1)" font-family="Liberation Serif" font-size="15.5" font-weight="normal" text-anchor="middle">01</text>
<text transform="translate(162.51 577.30) scale(1.06 1)" font-family="Liberation Serif" font-size="15.5" font-weight="normal" text-anchor="middle">02</text>
<text transform="translate(239.86 577.30) scale(1.06 1)" font-family="Liberation Serif" font-size="15.5" font-weight="normal" text-anchor="middle">05</text>
<text transform="translate(317.20 577.30) scale(1.06 1)" font-family="Liberation Serif" font-size="15.5" font-weight="normal" text-anchor="middle">10</text>
<text transform="translate(394.54 577.30) scale(1.06 1)" font-family="Liberation Serif" font-size="15.5" font-weight="normal" text-anchor="middle">20</text>
<text transform="translate(471.89 577.30) scale(1.06 1)" font-family="Liberation Serif" font-size="15.5" font-weight="normal" text-anchor="middle">50</text>
<text transform="translate(549.23 577.30) scale(1.06 1)" font-family="Liberation Serif" font-size="15.5" font-weight="normal" text-anchor="middle">100</text>
<text transform="translate(316.80 596.00) scale(1.075 1)" font-family="Liberation Serif" font-size="17.2" font-weight="normal" text-anchor="middle" word-spacing="1.5">Threshold (mm)</text>
<text transform="translate(13.20 291.40) rotate(-90) scale(1.127 1)" font-family="Liberation Serif" font-size="16.4" text-anchor="middle" word-spacing="2.9">Spatial scale (km)</text>
<text transform="translate(675.10 286.00) rotate(90) scale(1.127 1)" font-family="Liberation Serif" font-size="16.4" text-anchor="middle" word-spacing="4.2">Fraction skill score</text>
<text transform="translate(47.60 12.00) scale(1.088 1)" font-family="Liberation Mono" font-size="17.2" font-weight="normal" text-anchor="start" xml:space="preserve" style="white-space:pre" stroke="#000" stroke-width="0.42">Ctl 4DEnVar1600</text>
<text transform="translate(587.40 12.00) scale(1.088 1)" font-family="Liberation Mono" font-size="17.2" font-weight="normal" text-anchor="end" xml:space="preserve" style="white-space:pre" stroke="#000" stroke-width="0.42">RR03H  15-24h  Fukushima</text>
<text transform="translate(47.60 597.00) scale(1.209 1)" font-family="Liberation Mono" font-size="13.9" font-weight="normal" text-anchor="start" xml:space="preserve" style="white-space:pre" stroke="#000" stroke-width="0.3">Start: 201107271200</text>
<text transform="translate(586.60 597.00) scale(1.209 1)" font-family="Liberation Mono" font-size="13.9" font-weight="normal" text-anchor="end" xml:space="preserve" style="white-space:pre" stroke="#000" stroke-width="0.3">End: 201107291200</text>
<text transform="translate(5.30 -2.10) scale(0.975 1)" font-family="Liberation Sans" font-size="15.5" font-weight="bold" text-anchor="start">(d)</text>
<rect x="601.40" y="39.20" width="13.20" height="25.20" fill="#be0000"/>
<rect x="601.40" y="64.20" width="13.20" height="25.20" fill="#d20000"/>
<rect x="601.40" y="89.20" width="13.20" height="25.20" fill="#e60000"/>
<rect x="601.40" y="114.20" width="13.20" height="25.20" fill="#ff0000"/>
<rect x="601.40" y="139.20" width="13.20" height="25.20" fill="#f83611"/>
<rect x="601.40" y="164.20" width="13.20" height="25.20" fill="#ff6e14"/>
<rect x="601.40" y="189.20" width="13.20" height="25.20" fill="#fe9b18"/>
<rect x="601.40" y="214.20" width="13.20" height="25.20" fill="#ffd21e"/>
<rect x="601.40" y="239.20" width="13.20" height="25.20" fill="#ffff1e"/>
<rect x="601.40" y="264.20" width="13.20" height="25.20" fill="#fffcd2"/>
<rect x="601.40" y="289.20" width="13.20" height="25.20" fill="#6efa0a"/>
<rect x="601.40" y="314.20" width="13.20" height="25.20" fill="#00aa50"/>
<rect x="601.40" y="339.20" width="13.20" height="25.20" fill="#00e696"/>
<rect x="601.40" y="364.20" width="13.20" height="25.20" fill="#00ffff"/>
<rect x="601.40" y="389.20" width="13.20" height="25.20" fill="#aaaae6"/>
<rect x="601.40" y="414.20" width="13.20" height="25.20" fill="#9191fa"/>
<rect x="601.40" y="439.20" width="13.20" height="25.20" fill="#5e5efc"/>
<rect x="601.40" y="464.20" width="13.20" height="25.20" fill="#2a2af8"/>
<rect x="601.40" y="489.20" width="13.20" height="25.20" fill="#a000dc"/>
<rect x="601.40" y="514.20" width="13.20" height="25.20" fill="#6e0096"/>
<line x1="601.40" y1="64.20" x2="614.60" y2="64.20" stroke="#000" stroke-opacity="0.35" stroke-width="0.6"/>
<line x1="601.40" y1="89.20" x2="614.60" y2="89.20" stroke="#000" stroke-opacity="0.35" stroke-width="0.6"/>
<line x1="601.40" y1="114.20" x2="614.60" y2="114.20" stroke="#000" stroke-opacity="0.35" stroke-width="0.6"/>
<line x1="601.40" y1="139.20" x2="614.60" y2="139.20" stroke="#000" stroke-opacity="0.35" stroke-width="0.6"/>
<line x1="601.40" y1="164.20" x2="614.60" y2="164.20" stroke="#000" stroke-opacity="0.35" stroke-width="0.6"/>
<line x1="601.40" y1="189.20" x2="614.60" y2="189.20" stroke="#000" stroke-opacity="0.35" stroke-width="0.6"/>
<line x1="601.40" y1="214.20" x2="614.60" y2="214.20" stroke="#000" stroke-opacity="0.35" stroke-width="0.6"/>
<line x1="601.40" y1="239.20" x2="614.60" y2="239.20" stroke="#000" stroke-opacity="0.35" stroke-width="0.6"/>
<line x1="601.40" y1="264.20" x2="614.60" y2="264.20" stroke="#000" stroke-opacity="0.35" stroke-width="0.6"/>
<line x1="601.40" y1="289.20" x2="614.60" y2="289.20" stroke="#000" stroke-opacity="0.35" stroke-width="0.6"/>
<line x1="601.40" y1="314.20" x2="614.60" y2="314.20" stroke="#000" stroke-opacity="0.35" stroke-width="0.6"/>
<line x1="601.40" y1="339.20" x2="614.60" y2="339.20" stroke="#000" stroke-opacity="0.35" stroke-width="0.6"/>
<line x1="601.40" y1="364.20" x2="614.60" y2="364.20" stroke="#000" stroke-opacity="0.35" stroke-width="0.6"/>
<line x1="601.40" y1="389.20" x2="614.60" y2="389.20" stroke="#000" stroke-opacity="0.35" stroke-width="0.6"/>
<line x1="601.40" y1="414.20" x2="614.60" y2="414.20" stroke="#000" stroke-opacity="0.35" stroke-width="0.6"/>
<line x1="601.40" y1="439.20" x2="614.60" y2="439.20" stroke="#000" stroke-opacity="0.35" stroke-width="0.6"/>
<line x1="601.40" y1="464.20" x2="614.60" y2="464.20" stroke="#000" stroke-opacity="0.35" stroke-width="0.6"/>
<line x1="601.40" y1="489.20" x2="614.60" y2="489.20" stroke="#000" stroke-opacity="0.35" stroke-width="0.6"/>
<line x1="601.40" y1="514.20" x2="614.60" y2="514.20" stroke="#000" stroke-opacity="0.35" stroke-width="0.6"/>
<path d="M601.40 39.20 L608.00 18.40 L614.60 39.20 Z" fill="#c80000" stroke="#000" stroke-width="1.4" stroke-linejoin="miter"/>
<path d="M601.40 539.20 L608.00 560.00 L614.60 539.20 Z" fill="#8200aa" stroke="#000" stroke-width="1.4" stroke-linejoin="miter"/>
<rect x="601.40" y="39.20" width="13.20" height="500.00" fill="none" stroke="#000" stroke-width="1.4"/>
<text transform="translate(629.30 44.90) scale(1.07 1)" font-family="Liberation Sans" font-size="15.5" font-weight="normal" text-anchor="start">0.95</text>
<text transform="translate(629.30 69.90) scale(1.07 1)" font-family="Liberation Sans" font-size="15.5" font-weight="normal" text-anchor="start">0.90</text>
<text transform="translate(629.30 94.90) scale(1.07 1)" font-family="Liberation Sans" font-size="15.5" font-weight="normal" text-anchor="start">0.85</text>
<text transform="translate(629.30 119.90) scale(1.07 1)" font-family="Liberation Sans" font-size="15.5" font-weight="normal" text-anchor="start">0.80</text>
<text transform="translate(629.30 144.90) scale(1.07 1)" font-family="Liberation Sans" font-size="15.5" font-weight="normal" text-anchor="start">0.75</text>
<text transform="translate(629.30 169.90) scale(1.07 1)" font-family="Liberation Sans" font-size="15.5" font-weight="normal" text-anchor="start">0.70</text>
<text transform="translate(629.30 194.90) scale(1.07 1)" font-family="Liberation Sans" font-size="15.5" font-weight="normal" text-anchor="start">0.65</text>
<text transform="translate(629.30 219.90) scale(1.07 1)" font-family="Liberation Sans" font-size="15.5" font-weight="normal" text-anchor="start">0.60</text>
<text transform="translate(629.30 244.90) scale(1.07 1)" font-family="Liberation Sans" font-size="15.5" font-weight="normal" text-anchor="start">0.55</text>
<text transform="translate(629.30 269.90) scale(1.07 1)" font-family="Liberation Sans" font-size="15.5" font-weight="normal" text-anchor="start">0.50</text>
<text transform="translate(629.30 294.90) scale(1.07 1)" font-family="Liberation Sans" font-size="15.5" font-weight="normal" text-anchor="start">0.45</text>
<text transform="translate(629.30 319.90) scale(1.07 1)" font-family="Liberation Sans" font-size="15.5" font-weight="normal" text-anchor="start">0.40</text>
<text transform="translate(629.30 344.90) scale(1.07 1)" font-family="Liberation Sans" font-size="15.5" font-weight="normal" text-anchor="start">0.35</text>
<text transform="translate(629.30 369.90) scale(1.07 1)" font-family="Liberation Sans" font-size="15.5" font-weight="normal" text-anchor="start">0.30</text>
<text transform="translate(629.30 394.90) scale(1.07 1)" font-family="Liberation Sans" font-size="15.5" font-weight="normal" text-anchor="start">0.25</text>
<text transform="translate(629.30 419.90) scale(1.07 1)" font-family="Liberation Sans" font-size="15.5" font-weight="normal" text-anchor="start">0.20</text>
<text transform="translate(629.30 444.90) scale(1.07 1)" font-family="Liberation Sans" font-size="15.5" font-weight="normal" text-anchor="start">0.15</text>
<text transform="translate(629.30 469.90) scale(1.07 1)" font-family="Liberation Sans" font-size="15.5" font-weight="normal" text-anchor="start">0.10</text>
<text transform="translate(629.30 494.90) scale(1.07 1)" font-family="Liberation Sans" font-size="15.5" font-weight="normal" text-anchor="start">0.05</text>
<text transform="translate(629.30 519.90) scale(1.07 1)" font-family="Liberation Sans" font-size="15.5" font-weight="normal" text-anchor="start">0.00</text>
<text transform="translate(629.30 544.90) scale(1.07 1)" font-family="Liberation Sans" font-size="15.5" font-weight="normal" text-anchor="start">0.05</text>
<text transform="translate(628.80 544.90) scale(1.07 1)" font-family="Liberation Sans" font-size="15.5" font-weight="normal" text-anchor="end">−</text>
</g>
<g transform="translate(1378 0)">
<rect x="46.50" y="18.45" width="78.34" height="91.70" fill="#ff6e14"/>
<rect x="123.84" y="18.45" width="78.34" height="91.70" fill="#ff6e14"/>
<rect x="201.19" y="18.45" width="78.34" height="91.70" fill="#ffd21e"/>
<rect x="278.53" y="18.45" width="78.34" height="91.70" fill="#ffff1e"/>
<rect x="355.87" y="18.45" width="78.34" height="91.70" fill="#00aa50"/>
<rect x="433.21" y="18.45" width="78.34" height="91.70" fill="#5e5efc"/>
<rect x="510.56" y="18.45" width="77.34" height="91.70" fill="#a000dc"/>
<rect x="46.50" y="109.15" width="78.34" height="90.65" fill="#ff6e14"/>
<rect x="123.84" y="109.15" width="78.34" height="90.65" fill="#fe9b18"/>
<rect x="201.19" y="109.15" width="78.34" height="90.65" fill="#ffd21e"/>
<rect x="278.53" y="109.15" width="78.34" height="90.65" fill="#fffcd2"/>
<rect x="355.87" y="109.15" width="78.34" height="90.65" fill="#00aa50"/>
<rect x="433.21" y="109.15" width="78.34" height="90.65" fill="#5e5efc"/>
<rect x="510.56" y="109.15" width="77.34" height="90.65" fill="#a000dc"/>
<rect x="46.50" y="198.80" width="78.34" height="91.70" fill="#fe9b18"/>
<rect x="123.84" y="198.80" width="78.34" height="91.70" fill="#fe9b18"/>
<rect x="201.19" y="198.80" width="78.34" height="91.70" fill="#ffff1e"/>
<rect x="278.53" y="198.80" width="78.34" height="91.70" fill="#fffcd2"/>
<rect x="355.87" y="198.80" width="78.34" height="91.70" fill="#00e696"/>
<rect x="433.21" y="198.80" width="78.34" height="91.70" fill="#2a2af8"/>
<rect x="510.56" y="198.80" width="77.34" height="91.70" fill="#a000dc"/>
<rect x="46.50" y="289.50" width="78.34" height="90.75" fill="#fe9b18"/>
<rect x="123.84" y="289.50" width="78.34" height="90.75" fill="#ffd21e"/>
<rect x="201.19" y="289.50" width="78.34" height="90.75" fill="#fffcd2"/>
<rect x="278.53" y="289.50" width="78.34" height="90.75" fill="#6efa0a"/>
<rect x="355.87" y="289.50" width="78.34" height="90.75" fill="#00ffff"/>
<rect x="433.21" y="289.50" width="78.34" height="90.75" fill="#2a2af8"/>
<rect x="510.56" y="289.50" width="77.34" height="90.75" fill="#a000dc"/>
<rect x="46.50" y="379.25" width="78.34" height="91.05" fill="#ffd21e"/>
<rect x="123.84" y="379.25" width="78.34" height="91.05" fill="#ffff1e"/>
<rect x="201.19" y="379.25" width="78.34" height="91.05" fill="#6efa0a"/>
<rect x="278.53" y="379.25" width="78.34" height="91.05" fill="#00aa50"/>
<rect x="355.87" y="379.25" width="78.34" height="91.05" fill="#aaaae6"/>
<rect x="433.21" y="379.25" width="78.34" height="91.05" fill="#a000dc"/>
<rect x="510.56" y="379.25" width="77.34" height="91.05" fill="#a000dc"/>
<rect x="46.50" y="469.30" width="78.34" height="90.50" fill="#ffff1e"/>
<rect x="123.84" y="469.30" width="78.34" height="90.50" fill="#ffff1e"/>
<rect x="201.19" y="469.30" width="78.34" height="90.50" fill="#6efa0a"/>
<rect x="278.53" y="469.30" width="78.34" height="90.50" fill="#00e696"/>
<rect x="355.87" y="469.30" width="78.34" height="90.50" fill="#aaaae6"/>
<rect x="433.21" y="469.30" width="78.34" height="90.50" fill="#a000dc"/>
<rect x="510.56" y="469.30" width="77.34" height="90.50" fill="#a000dc"/>
<rect x="46.50" y="18.45" width="541.40" height="541.35" fill="none" stroke="#3a3a3a" stroke-width="0.9"/>
<text transform="translate(85.17 69.30) scale(1.105 1)" font-family="Liberation Mono" font-size="15.2" font-weight="normal" text-anchor="middle" stroke="#000" stroke-width="0.32">0.67</text>
<text transform="translate(162.51 69.30) scale(1.105 1)" font-family="Liberation Mono" font-size="15.2" font-weight="normal" text-anchor="middle" stroke="#000" stroke-width="0.32">0.65</text>
<text transform="translate(239.86 69.30) scale(1.105 1)" font-family="Liberation Mono" font-size="15.2" font-weight="normal" text-anchor="middle" stroke="#000" stroke-width="0.32">0.58</text>
<text transform="translate(317.20 69.30) scale(1.105 1)" font-family="Liberation Mono" font-size="15.2" font-weight="normal" text-anchor="middle" stroke="#000" stroke-width="0.32">0.52</text>
<text transform="translate(394.54 69.30) scale(1.105 1)" font-family="Liberation Mono" font-size="15.2" font-weight="normal" text-anchor="middle" stroke="#000" stroke-width="0.32">0.40</text>
<text transform="translate(471.89 69.30) scale(1.105 1)" font-family="Liberation Mono" font-size="15.2" font-weight="normal" text-anchor="middle" stroke="#000" stroke-width="0.32">0.15</text>
<text transform="translate(549.23 69.30) scale(1.105 1)" font-family="Liberation Mono" font-size="15.2" font-weight="normal" text-anchor="middle" stroke="#000" stroke-width="0.32">0.03</text>
<text transform="translate(85.17 159.46) scale(1.105 1)" font-family="Liberation Mono" font-size="15.2" font-weight="normal" text-anchor="middle" stroke="#000" stroke-width="0.32">0.65</text>
<text transform="translate(162.51 159.46) scale(1.105 1)" font-family="Liberation Mono" font-size="15.2" font-weight="normal" text-anchor="middle" stroke="#000" stroke-width="0.32">0.63</text>
<text transform="translate(239.86 159.46) scale(1.105 1)" font-family="Liberation Mono" font-size="15.2" font-weight="normal" text-anchor="middle" stroke="#000" stroke-width="0.32">0.56</text>
<text transform="translate(317.20 159.46) scale(1.105 1)" font-family="Liberation Mono" font-size="15.2" font-weight="normal" text-anchor="middle" stroke="#000" stroke-width="0.32">0.50</text>
<text transform="translate(394.54 159.46) scale(1.105 1)" font-family="Liberation Mono" font-size="15.2" font-weight="normal" text-anchor="middle" stroke="#000" stroke-width="0.32">0.37</text>
<text transform="translate(471.89 159.46) scale(1.105 1)" font-family="Liberation Mono" font-size="15.2" font-weight="normal" text-anchor="middle" stroke="#000" stroke-width="0.32">0.13</text>
<text transform="translate(549.23 159.46) scale(1.105 1)" font-family="Liberation Mono" font-size="15.2" font-weight="normal" text-anchor="middle" stroke="#000" stroke-width="0.32">0.02</text>
<text transform="translate(85.17 249.62) scale(1.105 1)" font-family="Liberation Mono" font-size="15.2" font-weight="normal" text-anchor="middle" stroke="#000" stroke-width="0.32">0.62</text>
<text transform="translate(162.51 249.62) scale(1.105 1)" font-family="Liberation Mono" font-size="15.2" font-weight="normal" text-anchor="middle" stroke="#000" stroke-width="0.32">0.60</text>
<text transform="translate(239.86 249.62) scale(1.105 1)" font-family="Liberation Mono" font-size="15.2" font-weight="normal" text-anchor="middle" stroke="#000" stroke-width="0.32">0.53</text>
<text transform="translate(317.20 249.62) scale(1.105 1)" font-family="Liberation Mono" font-size="15.2" font-weight="normal" text-anchor="middle" stroke="#000" stroke-width="0.32">0.46</text>
<text transform="translate(394.54 249.62) scale(1.105 1)" font-family="Liberation Mono" font-size="15.2" font-weight="normal" text-anchor="middle" stroke="#000" stroke-width="0.32">0.32</text>
<text transform="translate(471.89 249.62) scale(1.105 1)" font-family="Liberation Mono" font-size="15.2" font-weight="normal" text-anchor="middle" stroke="#000" stroke-width="0.32">0.10</text>
<text transform="translate(549.23 249.62) scale(1.105 1)" font-family="Liberation Mono" font-size="15.2" font-weight="normal" text-anchor="middle" stroke="#000" stroke-width="0.32">0.01</text>
<text transform="translate(85.17 339.78) scale(1.105 1)" font-family="Liberation Mono" font-size="15.2" font-weight="normal" text-anchor="middle" stroke="#000" stroke-width="0.32">0.60</text>
<text transform="translate(162.51 339.78) scale(1.105 1)" font-family="Liberation Mono" font-size="15.2" font-weight="normal" text-anchor="middle" stroke="#000" stroke-width="0.32">0.58</text>
<text transform="translate(239.86 339.78) scale(1.105 1)" font-family="Liberation Mono" font-size="15.2" font-weight="normal" text-anchor="middle" stroke="#000" stroke-width="0.32">0.50</text>
<text transform="translate(317.20 339.78) scale(1.105 1)" font-family="Liberation Mono" font-size="15.2" font-weight="normal" text-anchor="middle" stroke="#000" stroke-width="0.32">0.42</text>
<text transform="translate(394.54 339.78) scale(1.105 1)" font-family="Liberation Mono" font-size="15.2" font-weight="normal" text-anchor="middle" stroke="#000" stroke-width="0.32">0.29</text>
<text transform="translate(471.89 339.78) scale(1.105 1)" font-family="Liberation Mono" font-size="15.2" font-weight="normal" text-anchor="middle" stroke="#000" stroke-width="0.32">0.08</text>
<text transform="translate(549.23 339.78) scale(1.105 1)" font-family="Liberation Mono" font-size="15.2" font-weight="normal" text-anchor="middle" stroke="#000" stroke-width="0.32">0.00</text>
<text transform="translate(85.17 429.94) scale(1.105 1)" font-family="Liberation Mono" font-size="15.2" font-weight="normal" text-anchor="middle" stroke="#000" stroke-width="0.32">0.56</text>
<text transform="translate(162.51 429.94) scale(1.105 1)" font-family="Liberation Mono" font-size="15.2" font-weight="normal" text-anchor="middle" stroke="#000" stroke-width="0.32">0.53</text>
<text transform="translate(239.86 429.94) scale(1.105 1)" font-family="Liberation Mono" font-size="15.2" font-weight="normal" text-anchor="middle" stroke="#000" stroke-width="0.32">0.44</text>
<text transform="translate(317.20 429.94) scale(1.105 1)" font-family="Liberation Mono" font-size="15.2" font-weight="normal" text-anchor="middle" stroke="#000" stroke-width="0.32">0.36</text>
<text transform="translate(394.54 429.94) scale(1.105 1)" font-family="Liberation Mono" font-size="15.2" font-weight="normal" text-anchor="middle" stroke="#000" stroke-width="0.32">0.24</text>
<text transform="translate(471.89 429.94) scale(1.105 1)" font-family="Liberation Mono" font-size="15.2" font-weight="normal" text-anchor="middle" stroke="#000" stroke-width="0.32">0.05</text>
<text transform="translate(549.23 429.94) scale(1.105 1)" font-family="Liberation Mono" font-size="15.2" font-weight="normal" text-anchor="middle" stroke="#000" stroke-width="0.32">0.00</text>
<text transform="translate(85.17 520.10) scale(1.105 1)" font-family="Liberation Mono" font-size="15.2" font-weight="normal" text-anchor="middle" stroke="#000" stroke-width="0.32">0.53</text>
<text transform="translate(162.51 520.10) scale(1.105 1)" font-family="Liberation Mono" font-size="15.2" font-weight="normal" text-anchor="middle" stroke="#000" stroke-width="0.32">0.50</text>
<text transform="translate(239.86 520.10) scale(1.105 1)" font-family="Liberation Mono" font-size="15.2" font-weight="normal" text-anchor="middle" stroke="#000" stroke-width="0.32">0.42</text>
<text transform="translate(317.20 520.10) scale(1.105 1)" font-family="Liberation Mono" font-size="15.2" font-weight="normal" text-anchor="middle" stroke="#000" stroke-width="0.32">0.33</text>
<text transform="translate(394.54 520.10) scale(1.105 1)" font-family="Liberation Mono" font-size="15.2" font-weight="normal" text-anchor="middle" stroke="#000" stroke-width="0.32">0.21</text>
<text transform="translate(471.89 520.10) scale(1.105 1)" font-family="Liberation Mono" font-size="15.2" font-weight="normal" text-anchor="middle" stroke="#000" stroke-width="0.32">0.04</text>
<text transform="translate(549.23 520.10) scale(1.105 1)" font-family="Liberation Mono" font-size="15.2" font-weight="normal" text-anchor="middle" stroke="#000" stroke-width="0.32">0.00</text>
<text transform="translate(43.90 69.60) scale(1.04 1)" font-family="Liberation Serif" font-size="17.0" font-weight="normal" text-anchor="end">50</text>
<text transform="translate(43.90 159.76) scale(1.04 1)" font-family="Liberation Serif" font-size="17.0" font-weight="normal" text-anchor="end">40</text>
<text transform="translate(43.90 249.92) scale(1.04 1)" font-family="Liberation Serif" font-size="17.0" font-weight="normal" text-anchor="end">30</text>
<text transform="translate(43.90 340.08) scale(1.04 1)" font-family="Liberation Serif" font-size="17.0" font-weight="normal" text-anchor="end">20</text>
<text transform="translate(43.90 430.24) scale(1.04 1)" font-family="Liberation Serif" font-size="17.0" font-weight="normal" text-anchor="end">10</text>
<text transform="translate(43.90 520.40) scale(1.04 1)" font-family="Liberation Serif" font-size="17.0" font-weight="normal" text-anchor="end">06</text>
<text transform="translate(85.17 577.30) scale(1.06 1)" font-family="Liberation Serif" font-size="15.5" font-weight="normal" text-anchor="middle">01</text>
<text transform="translate(162.51 577.30) scale(1.06 1)" font-family="Liberation Serif" font-size="15.5" font-weight="normal" text-anchor="middle">02</text>
<text transform="translate(239.86 577.30) scale(1.06 1)" font-family="Liberation Serif" font-size="15.5" font-weight="normal" text-anchor="middle">05</text>
<text transform="translate(317.20 577.30) scale(1.06 1)" font-family="Liberation Serif" font-size="15.5" font-weight="normal" text-anchor="middle">10</text>
<text transform="translate(394.54 577.30) scale(1.06 1)" font-family="Liberation Serif" font-size="15.5" font-weight="normal" text-anchor="middle">20</text>
<text transform="translate(471.89 577.30) scale(1.06 1)" font-family="Liberation Serif" font-size="15.5" font-weight="normal" text-anchor="middle">50</text>
<text transform="translate(549.23 577.30) scale(1.06 1)" font-family="Liberation Serif" font-size="15.5" font-weight="normal" text-anchor="middle">100</text>
<text transform="translate(316.80 596.00) scale(1.075 1)" font-family="Liberation Serif" font-size="17.2" font-weight="normal" text-anchor="middle" word-spacing="1.5">Threshold (mm)</text>
<text transform="translate(13.20 291.40) rotate(-90) scale(1.127 1)" font-family="Liberation Serif" font-size="16.4" text-anchor="middle" word-spacing="2.9">Spatial scale (km)</text>
<text transform="translate(675.10 286.00) rotate(90) scale(1.127 1)" font-family="Liberation Serif" font-size="16.4" text-anchor="middle" word-spacing="4.2">Fraction skill score</text>
<text transform="translate(47.60 12.00) scale(1.088 1)" font-family="Liberation Mono" font-size="17.2" font-weight="normal" text-anchor="start" xml:space="preserve" style="white-space:pre" stroke="#000" stroke-width="0.42">Ctl 4DEnVar50</text>
<text transform="translate(587.40 12.00) scale(1.088 1)" font-family="Liberation Mono" font-size="17.2" font-weight="normal" text-anchor="end" xml:space="preserve" style="white-space:pre" stroke="#000" stroke-width="0.42">RR03H  06-12h  Fukushima</text>
<text transform="translate(47.60 597.00) scale(1.209 1)" font-family="Liberation Mono" font-size="13.9" font-weight="normal" text-anchor="start" xml:space="preserve" style="white-space:pre" stroke="#000" stroke-width="0.3">Start: 201107271200</text>
<text transform="translate(586.60 597.00) scale(1.209 1)" font-family="Liberation Mono" font-size="13.9" font-weight="normal" text-anchor="end" xml:space="preserve" style="white-space:pre" stroke="#000" stroke-width="0.3">End: 201107291200</text>
<text transform="translate(4.40 14.80) scale(0.975 1)" font-family="Liberation Sans" font-size="15.5" font-weight="bold" text-anchor="start">(e)</text>
<rect x="601.40" y="39.20" width="13.20" height="25.20" fill="#be0000"/>
<rect x="601.40" y="64.20" width="13.20" height="25.20" fill="#d20000"/>
<rect x="601.40" y="89.20" width="13.20" height="25.20" fill="#e60000"/>
<rect x="601.40" y="114.20" width="13.20" height="25.20" fill="#ff0000"/>
<rect x="601.40" y="139.20" width="13.20" height="25.20" fill="#f83611"/>
<rect x="601.40" y="164.20" width="13.20" height="25.20" fill="#ff6e14"/>
<rect x="601.40" y="189.20" width="13.20" height="25.20" fill="#fe9b18"/>
<rect x="601.40" y="214.20" width="13.20" height="25.20" fill="#ffd21e"/>
<rect x="601.40" y="239.20" width="13.20" height="25.20" fill="#ffff1e"/>
<rect x="601.40" y="264.20" width="13.20" height="25.20" fill="#fffcd2"/>
<rect x="601.40" y="289.20" width="13.20" height="25.20" fill="#6efa0a"/>
<rect x="601.40" y="314.20" width="13.20" height="25.20" fill="#00aa50"/>
<rect x="601.40" y="339.20" width="13.20" height="25.20" fill="#00e696"/>
<rect x="601.40" y="364.20" width="13.20" height="25.20" fill="#00ffff"/>
<rect x="601.40" y="389.20" width="13.20" height="25.20" fill="#aaaae6"/>
<rect x="601.40" y="414.20" width="13.20" height="25.20" fill="#9191fa"/>
<rect x="601.40" y="439.20" width="13.20" height="25.20" fill="#5e5efc"/>
<rect x="601.40" y="464.20" width="13.20" height="25.20" fill="#2a2af8"/>
<rect x="601.40" y="489.20" width="13.20" height="25.20" fill="#a000dc"/>
<rect x="601.40" y="514.20" width="13.20" height="25.20" fill="#6e0096"/>
<line x1="601.40" y1="64.20" x2="614.60" y2="64.20" stroke="#000" stroke-opacity="0.35" stroke-width="0.6"/>
<line x1="601.40" y1="89.20" x2="614.60" y2="89.20" stroke="#000" stroke-opacity="0.35" stroke-width="0.6"/>
<line x1="601.40" y1="114.20" x2="614.60" y2="114.20" stroke="#000" stroke-opacity="0.35" stroke-width="0.6"/>
<line x1="601.40" y1="139.20" x2="614.60" y2="139.20" stroke="#000" stroke-opacity="0.35" stroke-width="0.6"/>
<line x1="601.40" y1="164.20" x2="614.60" y2="164.20" stroke="#000" stroke-opacity="0.35" stroke-width="0.6"/>
<line x1="601.40" y1="189.20" x2="614.60" y2="189.20" stroke="#000" stroke-opacity="0.35" stroke-width="0.6"/>
<line x1="601.40" y1="214.20" x2="614.60" y2="214.20" stroke="#000" stroke-opacity="0.35" stroke-width="0.6"/>
<line x1="601.40" y1="239.20" x2="614.60" y2="239.20" stroke="#000" stroke-opacity="0.35" stroke-width="0.6"/>
<line x1="601.40" y1="264.20" x2="614.60" y2="264.20" stroke="#000" stroke-opacity="0.35" stroke-width="0.6"/>
<line x1="601.40" y1="289.20" x2="614.60" y2="289.20" stroke="#000" stroke-opacity="0.35" stroke-width="0.6"/>
<line x1="601.40" y1="314.20" x2="614.60" y2="314.20" stroke="#000" stroke-opacity="0.35" stroke-width="0.6"/>
<line x1="601.40" y1="339.20" x2="614.60" y2="339.20" stroke="#000" stroke-opacity="0.35" stroke-width="0.6"/>
<line x1="601.40" y1="364.20" x2="614.60" y2="364.20" stroke="#000" stroke-opacity="0.35" stroke-width="0.6"/>
<line x1="601.40" y1="389.20" x2="614.60" y2="389.20" stroke="#000" stroke-opacity="0.35" stroke-width="0.6"/>
<line x1="601.40" y1="414.20" x2="614.60" y2="414.20" stroke="#000" stroke-opacity="0.35" stroke-width="0.6"/>
<line x1="601.40" y1="439.20" x2="614.60" y2="439.20" stroke="#000" stroke-opacity="0.35" stroke-width="0.6"/>
<line x1="601.40" y1="464.20" x2="614.60" y2="464.20" stroke="#000" stroke-opacity="0.35" stroke-width="0.6"/>
<line x1="601.40" y1="489.20" x2="614.60" y2="489.20" stroke="#000" stroke-opacity="0.35" stroke-width="0.6"/>
<line x1="601.40" y1="514.20" x2="614.60" y2="514.20" stroke="#000" stroke-opacity="0.35" stroke-width="0.6"/>
<path d="M601.40 39.20 L608.00 18.40 L614.60 39.20 Z" fill="#c80000" stroke="#000" stroke-width="1.4" stroke-linejoin="miter"/>
<path d="M601.40 539.20 L608.00 560.00 L614.60 539.20 Z" fill="#8200aa" stroke="#000" stroke-width="1.4" stroke-linejoin="miter"/>
<rect x="601.40" y="39.20" width="13.20" height="500.00" fill="none" stroke="#000" stroke-width="1.4"/>
<text transform="translate(629.30 44.90) scale(1.07 1)" font-family="Liberation Sans" font-size="15.5" font-weight="normal" text-anchor="start">0.95</text>
<text transform="translate(629.30 69.90) scale(1.07 1)" font-family="Liberation Sans" font-size="15.5" font-weight="normal" text-anchor="start">0.90</text>
<text transform="translate(629.30 94.90) scale(1.07 1)" font-family="Liberation Sans" font-size="15.5" font-weight="normal" text-anchor="start">0.85</text>
<text transform="translate(629.30 119.90) scale(1.07 1)" font-family="Liberation Sans" font-size="15.5" font-weight="normal" text-anchor="start">0.80</text>
<text transform="translate(629.30 144.90) scale(1.07 1)" font-family="Liberation Sans" font-size="15.5" font-weight="normal" text-anchor="start">0.75</text>
<text transform="translate(629.30 169.90) scale(1.07 1)" font-family="Liberation Sans" font-size="15.5" font-weight="normal" text-anchor="start">0.70</text>
<text transform="translate(629.30 194.90) scale(1.07 1)" font-family="Liberation Sans" font-size="15.5" font-weight="normal" text-anchor="start">0.65</text>
<text transform="translate(629.30 219.90) scale(1.07 1)" font-family="Liberation Sans" font-size="15.5" font-weight="normal" text-anchor="start">0.60</text>
<text transform="translate(629.30 244.90) scale(1.07 1)" font-family="Liberation Sans" font-size="15.5" font-weight="normal" text-anchor="start">0.55</text>
<text transform="translate(629.30 269.90) scale(1.07 1)" font-family="Liberation Sans" font-size="15.5" font-weight="normal" text-anchor="start">0.50</text>
<text transform="translate(629.30 294.90) scale(1.07 1)" font-family="Liberation Sans" font-size="15.5" font-weight="normal" text-anchor="start">0.45</text>
<text transform="translate(629.30 319.90) scale(1.07 1)" font-family="Liberation Sans" font-size="15.5" font-weight="normal" text-anchor="start">0.40</text>
<text transform="translate(629.30 344.90) scale(1.07 1)" font-family="Liberation Sans" font-size="15.5" font-weight="normal" text-anchor="start">0.35</text>
<text transform="translate(629.30 369.90) scale(1.07 1)" font-family="Liberation Sans" font-size="15.5" font-weight="normal" text-anchor="start">0.30</text>
<text transform="translate(629.30 394.90) scale(1.07 1)" font-family="Liberation Sans" font-size="15.5" font-weight="normal" text-anchor="start">0.25</text>
<text transform="translate(629.30 419.90) scale(1.07 1)" font-family="Liberation Sans" font-size="15.5" font-weight="normal" text-anchor="start">0.20</text>
<text transform="translate(629.30 444.90) scale(1.07 1)" font-family="Liberation Sans" font-size="15.5" font-weight="normal" text-anchor="start">0.15</text>
<text transform="translate(629.30 469.90) scale(1.07 1)" font-family="Liberation Sans" font-size="15.5" font-weight="normal" text-anchor="start">0.10</text>
<text transform="translate(629.30 494.90) scale(1.07 1)" font-family="Liberation Sans" font-size="15.5" font-weight="normal" text-anchor="start">0.05</text>
<text transform="translate(629.30 519.90) scale(1.07 1)" font-family="Liberation Sans" font-size="15.5" font-weight="normal" text-anchor="start">0.00</text>
<text transform="translate(629.30 544.90) scale(1.07 1)" font-family="Liberation Sans" font-size="15.5" font-weight="normal" text-anchor="start">0.05</text>
<text transform="translate(628.80 544.90) scale(1.07 1)" font-family="Liberation Sans" font-size="15.5" font-weight="normal" text-anchor="end">−</text>
</g>
<g transform="translate(1378 600)">
<rect x="46.50" y="18.45" width="78.34" height="91.70" fill="#ffd21e"/>
<rect x="123.84" y="18.45" width="78.34" height="91.70" fill="#ffff1e"/>
<rect x="201.19" y="18.45" width="78.34" height="91.70" fill="#fffcd2"/>
<rect x="278.53" y="18.45" width="78.34" height="91.70" fill="#fffcd2"/>
<rect x="355.87" y="18.45" width="78.34" height="91.70" fill="#6efa0a"/>
<rect x="433.21" y="18.45" width="78.34" height="91.70" fill="#00e696"/>
<rect x="510.56" y="18.45" width="77.34" height="91.70" fill="#aaaae6"/>
<rect x="46.50" y="109.15" width="78.34" height="90.65" fill="#ffff1e"/>
<rect x="123.84" y="109.15" width="78.34" height="90.65" fill="#ffff1e"/>
<rect x="201.19" y="109.15" width="78.34" height="90.65" fill="#fffcd2"/>
<rect x="278.53" y="109.15" width="78.34" height="90.65" fill="#6efa0a"/>
<rect x="355.87" y="109.15" width="78.34" height="90.65" fill="#00aa50"/>
<rect x="433.21" y="109.15" width="78.34" height="90.65" fill="#00ffff"/>
<rect x="510.56" y="109.15" width="77.34" height="90.65" fill="#aaaae6"/>
<rect x="46.50" y="198.80" width="78.34" height="91.70" fill="#ffff1e"/>
<rect x="123.84" y="198.80" width="78.34" height="91.70" fill="#fffcd2"/>
<rect x="201.19" y="198.80" width="78.34" height="91.70" fill="#6efa0a"/>
<rect x="278.53" y="198.80" width="78.34" height="91.70" fill="#6efa0a"/>
<rect x="355.87" y="198.80" width="78.34" height="91.70" fill="#00e696"/>
<rect x="433.21" y="198.80" width="78.34" height="91.70" fill="#aaaae6"/>
<rect x="510.56" y="198.80" width="77.34" height="91.70" fill="#5e5efc"/>
<rect x="46.50" y="289.50" width="78.34" height="90.75" fill="#fffcd2"/>
<rect x="123.84" y="289.50" width="78.34" height="90.75" fill="#fffcd2"/>
<rect x="201.19" y="289.50" width="78.34" height="90.75" fill="#6efa0a"/>
<rect x="278.53" y="289.50" width="78.34" height="90.75" fill="#00aa50"/>
<rect x="355.87" y="289.50" width="78.34" height="90.75" fill="#00e696"/>
<rect x="433.21" y="289.50" width="78.34" height="90.75" fill="#9191fa"/>
<rect x="510.56" y="289.50" width="77.34" height="90.75" fill="#2a2af8"/>
<rect x="46.50" y="379.25" width="78.34" height="91.05" fill="#6efa0a"/>
<rect x="123.84" y="379.25" width="78.34" height="91.05" fill="#6efa0a"/>
<rect x="201.19" y="379.25" width="78.34" height="91.05" fill="#00aa50"/>
<rect x="278.53" y="379.25" width="78.34" height="91.05" fill="#00e696"/>
<rect x="355.87" y="379.25" width="78.34" height="91.05" fill="#aaaae6"/>
<rect x="433.21" y="379.25" width="78.34" height="91.05" fill="#5e5efc"/>
<rect x="510.56" y="379.25" width="77.34" height="91.05" fill="#2a2af8"/>
<rect x="46.50" y="469.30" width="78.34" height="90.50" fill="#6efa0a"/>
<rect x="123.84" y="469.30" width="78.34" height="90.50" fill="#00aa50"/>
<rect x="201.19" y="469.30" width="78.34" height="90.50" fill="#00e696"/>
<rect x="278.53" y="469.30" width="78.34" height="90.50" fill="#00ffff"/>
<rect x="355.87" y="469.30" width="78.34" height="90.50" fill="#aaaae6"/>
<rect x="433.21" y="469.30" width="78.34" height="90.50" fill="#5e5efc"/>
<rect x="510.56" y="469.30" width="77.34" height="90.50" fill="#a000dc"/>
<rect x="46.50" y="18.45" width="541.40" height="541.35" fill="none" stroke="#3a3a3a" stroke-width="0.9"/>
<text transform="translate(85.17 69.30) scale(1.105 1)" font-family="Liberation Mono" font-size="15.2" font-weight="normal" text-anchor="middle" stroke="#000" stroke-width="0.32">0.55</text>
<text transform="translate(162.51 69.30) scale(1.105 1)" font-family="Liberation Mono" font-size="15.2" font-weight="normal" text-anchor="middle" stroke="#000" stroke-width="0.32">0.54</text>
<text transform="translate(239.86 69.30) scale(1.105 1)" font-family="Liberation Mono" font-size="15.2" font-weight="normal" text-anchor="middle" stroke="#000" stroke-width="0.32">0.49</text>
<text transform="translate(317.20 69.30) scale(1.105 1)" font-family="Liberation Mono" font-size="15.2" font-weight="normal" text-anchor="middle" stroke="#000" stroke-width="0.32">0.48</text>
<text transform="translate(394.54 69.30) scale(1.105 1)" font-family="Liberation Mono" font-size="15.2" font-weight="normal" text-anchor="middle" stroke="#000" stroke-width="0.32">0.41</text>
<text transform="translate(471.89 69.30) scale(1.105 1)" font-family="Liberation Mono" font-size="15.2" font-weight="normal" text-anchor="middle" stroke="#000" stroke-width="0.32">0.30</text>
<text transform="translate(549.23 69.30) scale(1.105 1)" font-family="Liberation Mono" font-size="15.2" font-weight="normal" text-anchor="middle" stroke="#000" stroke-width="0.32">0.25</text>
<text transform="translate(85.17 159.46) scale(1.105 1)" font-family="Liberation Mono" font-size="15.2" font-weight="normal" text-anchor="middle" stroke="#000" stroke-width="0.32">0.54</text>
<text transform="translate(162.51 159.46) scale(1.105 1)" font-family="Liberation Mono" font-size="15.2" font-weight="normal" text-anchor="middle" stroke="#000" stroke-width="0.32">0.52</text>
<text transform="translate(239.86 159.46) scale(1.105 1)" font-family="Liberation Mono" font-size="15.2" font-weight="normal" text-anchor="middle" stroke="#000" stroke-width="0.32">0.47</text>
<text transform="translate(317.20 159.46) scale(1.105 1)" font-family="Liberation Mono" font-size="15.2" font-weight="normal" text-anchor="middle" stroke="#000" stroke-width="0.32">0.45</text>
<text transform="translate(394.54 159.46) scale(1.105 1)" font-family="Liberation Mono" font-size="15.2" font-weight="normal" text-anchor="middle" stroke="#000" stroke-width="0.32">0.38</text>
<text transform="translate(471.89 159.46) scale(1.105 1)" font-family="Liberation Mono" font-size="15.2" font-weight="normal" text-anchor="middle" stroke="#000" stroke-width="0.32">0.27</text>
<text transform="translate(549.23 159.46) scale(1.105 1)" font-family="Liberation Mono" font-size="15.2" font-weight="normal" text-anchor="middle" stroke="#000" stroke-width="0.32">0.20</text>
<text transform="translate(85.17 249.62) scale(1.105 1)" font-family="Liberation Mono" font-size="15.2" font-weight="normal" text-anchor="middle" stroke="#000" stroke-width="0.32">0.51</text>
<text transform="translate(162.51 249.62) scale(1.105 1)" font-family="Liberation Mono" font-size="15.2" font-weight="normal" text-anchor="middle" stroke="#000" stroke-width="0.32">0.49</text>
<text transform="translate(239.86 249.62) scale(1.105 1)" font-family="Liberation Mono" font-size="15.2" font-weight="normal" text-anchor="middle" stroke="#000" stroke-width="0.32">0.43</text>
<text transform="translate(317.20 249.62) scale(1.105 1)" font-family="Liberation Mono" font-size="15.2" font-weight="normal" text-anchor="middle" stroke="#000" stroke-width="0.32">0.40</text>
<text transform="translate(394.54 249.62) scale(1.105 1)" font-family="Liberation Mono" font-size="15.2" font-weight="normal" text-anchor="middle" stroke="#000" stroke-width="0.32">0.34</text>
<text transform="translate(471.89 249.62) scale(1.105 1)" font-family="Liberation Mono" font-size="15.2" font-weight="normal" text-anchor="middle" stroke="#000" stroke-width="0.32">0.22</text>
<text transform="translate(549.23 249.62) scale(1.105 1)" font-family="Liberation Mono" font-size="15.2" font-weight="normal" text-anchor="middle" stroke="#000" stroke-width="0.32">0.13</text>
<text transform="translate(85.17 339.78) scale(1.105 1)" font-family="Liberation Mono" font-size="15.2" font-weight="normal" text-anchor="middle" stroke="#000" stroke-width="0.32">0.49</text>
<text transform="translate(162.51 339.78) scale(1.105 1)" font-family="Liberation Mono" font-size="15.2" font-weight="normal" text-anchor="middle" stroke="#000" stroke-width="0.32">0.46</text>
<text transform="translate(239.86 339.78) scale(1.105 1)" font-family="Liberation Mono" font-size="15.2" font-weight="normal" text-anchor="middle" stroke="#000" stroke-width="0.32">0.41</text>
<text transform="translate(317.20 339.78) scale(1.105 1)" font-family="Liberation Mono" font-size="15.2" font-weight="normal" text-anchor="middle" stroke="#000" stroke-width="0.32">0.37</text>
<text transform="translate(394.54 339.78) scale(1.105 1)" font-family="Liberation Mono" font-size="15.2" font-weight="normal" text-anchor="middle" stroke="#000" stroke-width="0.32">0.30</text>
<text transform="translate(471.89 339.78) scale(1.105 1)" font-family="Liberation Mono" font-size="15.2" font-weight="normal" text-anchor="middle" stroke="#000" stroke-width="0.32">0.19</text>
<text transform="translate(549.23 339.78) scale(1.105 1)" font-family="Liberation Mono" font-size="15.2" font-weight="normal" text-anchor="middle" stroke="#000" stroke-width="0.32">0.09</text>
<text transform="translate(85.17 429.94) scale(1.105 1)" font-family="Liberation Mono" font-size="15.2" font-weight="normal" text-anchor="middle" stroke="#000" stroke-width="0.32">0.44</text>
<text transform="translate(162.51 429.94) scale(1.105 1)" font-family="Liberation Mono" font-size="15.2" font-weight="normal" text-anchor="middle" stroke="#000" stroke-width="0.32">0.41</text>
<text transform="translate(239.86 429.94) scale(1.105 1)" font-family="Liberation Mono" font-size="15.2" font-weight="normal" text-anchor="middle" stroke="#000" stroke-width="0.32">0.35</text>
<text transform="translate(317.20 429.94) scale(1.105 1)" font-family="Liberation Mono" font-size="15.2" font-weight="normal" text-anchor="middle" stroke="#000" stroke-width="0.32">0.31</text>
<text transform="translate(394.54 429.94) scale(1.105 1)" font-family="Liberation Mono" font-size="15.2" font-weight="normal" text-anchor="middle" stroke="#000" stroke-width="0.32">0.24</text>
<text transform="translate(471.89 429.94) scale(1.105 1)" font-family="Liberation Mono" font-size="15.2" font-weight="normal" text-anchor="middle" stroke="#000" stroke-width="0.32">0.13</text>
<text transform="translate(549.23 429.94) scale(1.105 1)" font-family="Liberation Mono" font-size="15.2" font-weight="normal" text-anchor="middle" stroke="#000" stroke-width="0.32">0.05</text>
<text transform="translate(85.17 520.10) scale(1.105 1)" font-family="Liberation Mono" font-size="15.2" font-weight="normal" text-anchor="middle" stroke="#000" stroke-width="0.32">0.42</text>
<text transform="translate(162.51 520.10) scale(1.105 1)" font-family="Liberation Mono" font-size="15.2" font-weight="normal" text-anchor="middle" stroke="#000" stroke-width="0.32">0.39</text>
<text transform="translate(239.86 520.10) scale(1.105 1)" font-family="Liberation Mono" font-size="15.2" font-weight="normal" text-anchor="middle" stroke="#000" stroke-width="0.32">0.33</text>
<text transform="translate(317.20 520.10) scale(1.105 1)" font-family="Liberation Mono" font-size="15.2" font-weight="normal" text-anchor="middle" stroke="#000" stroke-width="0.32">0.28</text>
<text transform="translate(394.54 520.10) scale(1.105 1)" font-family="Liberation Mono" font-size="15.2" font-weight="normal" text-anchor="middle" stroke="#000" stroke-width="0.32">0.21</text>
<text transform="translate(471.89 520.10) scale(1.105 1)" font-family="Liberation Mono" font-size="15.2" font-weight="normal" text-anchor="middle" stroke="#000" stroke-width="0.32">0.11</text>
<text transform="translate(549.23 520.10) scale(1.105 1)" font-family="Liberation Mono" font-size="15.2" font-weight="normal" text-anchor="middle" stroke="#000" stroke-width="0.32">0.04</text>
<text transform="translate(43.90 69.60) scale(1.04 1)" font-family="Liberation Serif" font-size="17.0" font-weight="normal" text-anchor="end">50</text>
<text transform="translate(43.90 159.76) scale(1.04 1)" font-family="Liberation Serif" font-size="17.0" font-weight="normal" text-anchor="end">40</text>
<text transform="translate(43.90 249.92) scale(1.04 1)" font-family="Liberation Serif" font-size="17.0" font-weight="normal" text-anchor="end">30</text>
<text transform="translate(43.90 340.08) scale(1.04 1)" font-family="Liberation Serif" font-size="17.0" font-weight="normal" text-anchor="end">20</text>
<text transform="translate(43.90 430.24) scale(1.04 1)" font-family="Liberation Serif" font-size="17.0" font-weight="normal" text-anchor="end">10</text>
<text transform="translate(43.90 520.40) scale(1.04 1)" font-family="Liberation Serif" font-size="17.0" font-weight="normal" text-anchor="end">06</text>
<text transform="translate(85.17 577.30) scale(1.06 1)" font-family="Liberation Serif" font-size="15.5" font-weight="normal" text-anchor="middle">01</text>
<text transform="translate(162.51 577.30) scale(1.06 1)" font-family="Liberation Serif" font-size="15.5" font-weight="normal" text-anchor="middle">02</text>
<text transform="translate(239.86 577.30) scale(1.06 1)" font-family="Liberation Serif" font-size="15.5" font-weight="normal" text-anchor="middle">05</text>
<text transform="translate(317.20 577.30) scale(1.06 1)" font-family="Liberation Serif" font-size="15.5" font-weight="normal" text-anchor="middle">10</text>
<text transform="translate(394.54 577.30) scale(1.06 1)" font-family="Liberation Serif" font-size="15.5" font-weight="normal" text-anchor="middle">20</text>
<text transform="translate(471.89 577.30) scale(1.06 1)" font-family="Liberation Serif" font-size="15.5" font-weight="normal" text-anchor="middle">50</text>
<text transform="translate(549.23 577.30) scale(1.06 1)" font-family="Liberation Serif" font-size="15.5" font-weight="normal" text-anchor="middle">100</text>
<text transform="translate(316.80 596.00) scale(1.075 1)" font-family="Liberation Serif" font-size="17.2" font-weight="normal" text-anchor="middle" word-spacing="1.5">Threshold (mm)</text>
<text transform="translate(13.20 291.40) rotate(-90) scale(1.127 1)" font-family="Liberation Serif" font-size="16.4" text-anchor="middle" word-spacing="2.9">Spatial scale (km)</text>
<text transform="translate(675.10 286.00) rotate(90) scale(1.127 1)" font-family="Liberation Serif" font-size="16.4" text-anchor="middle" word-spacing="4.2">Fraction skill score</text>
<text transform="translate(47.60 12.00) scale(1.088 1)" font-family="Liberation Mono" font-size="17.2" font-weight="normal" text-anchor="start" xml:space="preserve" style="white-space:pre" stroke="#000" stroke-width="0.42">Ctl 4DEnVar50</text>
<text transform="translate(587.40 12.00) scale(1.088 1)" font-family="Liberation Mono" font-size="17.2" font-weight="normal" text-anchor="end" xml:space="preserve" style="white-space:pre" stroke="#000" stroke-width="0.42">RR03H  15-24h  Fukushima</text>
<text transform="translate(47.60 597.00) scale(1.209 1)" font-family="Liberation Mono" font-size="13.9" font-weight="normal" text-anchor="start" xml:space="preserve" style="white-space:pre" stroke="#000" stroke-width="0.3">Start: 201107271200</text>
<text transform="translate(586.60 597.00) scale(1.209 1)" font-family="Liberation Mono" font-size="13.9" font-weight="normal" text-anchor="end" xml:space="preserve" style="white-space:pre" stroke="#000" stroke-width="0.3">End: 201107291200</text>
<text transform="translate(4.40 -2.10) scale(0.975 1)" font-family="Liberation Sans" font-size="15.5" font-weight="bold" text-anchor="start">(f)</text>
<rect x="601.40" y="39.20" width="13.20" height="25.20" fill="#be0000"/>
<rect x="601.40" y="64.20" width="13.20" height="25.20" fill="#d20000"/>
<rect x="601.40" y="89.20" width="13.20" height="25.20" fill="#e60000"/>
<rect x="601.40" y="114.20" width="13.20" height="25.20" fill="#ff0000"/>
<rect x="601.40" y="139.20" width="13.20" height="25.20" fill="#f83611"/>
<rect x="601.40" y="164.20" width="13.20" height="25.20" fill="#ff6e14"/>
<rect x="601.40" y="189.20" width="13.20" height="25.20" fill="#fe9b18"/>
<rect x="601.40" y="214.20" width="13.20" height="25.20" fill="#ffd21e"/>
<rect x="601.40" y="239.20" width="13.20" height="25.20" fill="#ffff1e"/>
<rect x="601.40" y="264.20" width="13.20" height="25.20" fill="#fffcd2"/>
<rect x="601.40" y="289.20" width="13.20" height="25.20" fill="#6efa0a"/>
<rect x="601.40" y="314.20" width="13.20" height="25.20" fill="#00aa50"/>
<rect x="601.40" y="339.20" width="13.20" height="25.20" fill="#00e696"/>
<rect x="601.40" y="364.20" width="13.20" height="25.20" fill="#00ffff"/>
<rect x="601.40" y="389.20" width="13.20" height="25.20" fill="#aaaae6"/>
<rect x="601.40" y="414.20" width="13.20" height="25.20" fill="#9191fa"/>
<rect x="601.40" y="439.20" width="13.20" height="25.20" fill="#5e5efc"/>
<rect x="601.40" y="464.20" width="13.20" height="25.20" fill="#2a2af8"/>
<rect x="601.40" y="489.20" width="13.20" height="25.20" fill="#a000dc"/>
<rect x="601.40" y="514.20" width="13.20" height="25.20" fill="#6e0096"/>
<line x1="601.40" y1="64.20" x2="614.60" y2="64.20" stroke="#000" stroke-opacity="0.35" stroke-width="0.6"/>
<line x1="601.40" y1="89.20" x2="614.60" y2="89.20" stroke="#000" stroke-opacity="0.35" stroke-width="0.6"/>
<line x1="601.40" y1="114.20" x2="614.60" y2="114.20" stroke="#000" stroke-opacity="0.35" stroke-width="0.6"/>
<line x1="601.40" y1="139.20" x2="614.60" y2="139.20" stroke="#000" stroke-opacity="0.35" stroke-width="0.6"/>
<line x1="601.40" y1="164.20" x2="614.60" y2="164.20" stroke="#000" stroke-opacity="0.35" stroke-width="0.6"/>
<line x1="601.40" y1="189.20" x2="614.60" y2="189.20" stroke="#000" stroke-opacity="0.35" stroke-width="0.6"/>
<line x1="601.40" y1="214.20" x2="614.60" y2="214.20" stroke="#000" stroke-opacity="0.35" stroke-width="0.6"/>
<line x1="601.40" y1="239.20" x2="614.60" y2="239.20" stroke="#000" stroke-opacity="0.35" stroke-width="0.6"/>
<line x1="601.40" y1="264.20" x2="614.60" y2="264.20" stroke="#000" stroke-opacity="0.35" stroke-width="0.6"/>
<line x1="601.40" y1="289.20" x2="614.60" y2="289.20" stroke="#000" stroke-opacity="0.35" stroke-width="0.6"/>
<line x1="601.40" y1="314.20" x2="614.60" y2="314.20" stroke="#000" stroke-opacity="0.35" stroke-width="0.6"/>
<line x1="601.40" y1="339.20" x2="614.60" y2="339.20" stroke="#000" stroke-opacity="0.35" stroke-width="0.6"/>
<line x1="601.40" y1="364.20" x2="614.60" y2="364.20" stroke="#000" stroke-opacity="0.35" stroke-width="0.6"/>
<line x1="601.40" y1="389.20" x2="614.60" y2="389.20" stroke="#000" stroke-opacity="0.35" stroke-width="0.6"/>
<line x1="601.40" y1="414.20" x2="614.60" y2="414.20" stroke="#000" stroke-opacity="0.35" stroke-width="0.6"/>
<line x1="601.40" y1="439.20" x2="614.60" y2="439.20" stroke="#000" stroke-opacity="0.35" stroke-width="0.6"/>
<line x1="601.40" y1="464.20" x2="614.60" y2="464.20" stroke="#000" stroke-opacity="0.35" stroke-width="0.6"/>
<line x1="601.40" y1="489.20" x2="614.60" y2="489.20" stroke="#000" stroke-opacity="0.35" stroke-width="0.6"/>
<line x1="601.40" y1="514.20" x2="614.60" y2="514.20" stroke="#000" stroke-opacity="0.35" stroke-width="0.6"/>
<path d="M601.40 39.20 L608.00 18.40 L614.60 39.20 Z" fill="#c80000" stroke="#000" stroke-width="1.4" stroke-linejoin="miter"/>
<path d="M601.40 539.20 L608.00 560.00 L614.60 539.20 Z" fill="#8200aa" stroke="#000" stroke-width="1.4" stroke-linejoin="miter"/>
<rect x="601.40" y="39.20" width="13.20" height="500.00" fill="none" stroke="#000" stroke-width="1.4"/>
<text transform="translate(629.30 44.90) scale(1.07 1)" font-family="Liberation Sans" font-size="15.5" font-weight="normal" text-anchor="start">0.95</text>
<text transform="translate(629.30 69.90) scale(1.07 1)" font-family="Liberation Sans" font-size="15.5" font-weight="normal" text-anchor="start">0.90</text>
<text transform="translate(629.30 94.90) scale(1.07 1)" font-family="Liberation Sans" font-size="15.5" font-weight="normal" text-anchor="start">0.85</text>
<text transform="translate(629.30 119.90) scale(1.07 1)" font-family="Liberation Sans" font-size="15.5" font-weight="normal" text-anchor="start">0.80</text>
<text transform="translate(629.30 144.90) scale(1.07 1)" font-family="Liberation Sans" font-size="15.5" font-weight="normal" text-anchor="start">0.75</text>
<text transform="translate(629.30 169.90) scale(1.07 1)" font-family="Liberation Sans" font-size="15.5" font-weight="normal" text-anchor="start">0.70</text>
<text transform="translate(629.30 194.90) scale(1.07 1)" font-family="Liberation Sans" font-size="15.5" font-weight="normal" text-anchor="start">0.65</text>
<text transform="translate(629.30 219.90) scale(1.07 1)" font-family="Liberation Sans" font-size="15.5" font-weight="normal" text-anchor="start">0.60</text>
<text transform="translate(629.30 244.90) scale(1.07 1)" font-family="Liberation Sans" font-size="15.5" font-weight="normal" text-anchor="start">0.55</text>
<text transform="translate(629.30 269.90) scale(1.07 1)" font-family="Liberation Sans" font-size="15.5" font-weight="normal" text-anchor="start">0.50</text>
<text transform="translate(629.30 294.90) scale(1.07 1)" font-family="Liberation Sans" font-size="15.5" font-weight="normal" text-anchor="start">0.45</text>
<text transform="translate(629.30 319.90) scale(1.07 1)" font-family="Liberation Sans" font-size="15.5" font-weight="normal" text-anchor="start">0.40</text>
<text transform="translate(629.30 344.90) scale(1.07 1)" font-family="Liberation Sans" font-size="15.5" font-weight="normal" text-anchor="start">0.35</text>
<text transform="translate(629.30 369.90) scale(1.07 1)" font-family="Liberation Sans" font-size="15.5" font-weight="normal" text-anchor="start">0.30</text>
<text transform="translate(629.30 394.90) scale(1.07 1)" font-family="Liberation Sans" font-size="15.5" font-weight="normal" text-anchor="start">0.25</text>
<text transform="translate(629.30 419.90) scale(1.07 1)" font-family="Liberation Sans" font-size="15.5" font-weight="normal" text-anchor="start">0.20</text>
<text transform="translate(629.30 444.90) scale(1.07 1)" font-family="Liberation Sans" font-size="15.5" font-weight="normal" text-anchor="start">0.15</text>
<text transform="translate(629.30 469.90) scale(1.07 1)" font-family="Liberation Sans" font-size="15.5" font-weight="normal" text-anchor="start">0.10</text>
<text transform="translate(629.30 494.90) scale(1.07 1)" font-family="Liberation Sans" font-size="15.5" font-weight="normal" text-anchor="start">0.05</text>
<text transform="translate(629.30 519.90) scale(1.07 1)" font-family="Liberation Sans" font-size="15.5" font-weight="normal" text-anchor="start">0.00</text>
<text transform="translate(629.30 544.90) scale(1.07 1)" font-family="Liberation Sans" font-size="15.5" font-weight="normal" text-anchor="start">0.05</text>
<text transform="translate(628.80 544.90) scale(1.07 1)" font-family="Liberation Sans" font-size="15.5" font-weight="normal" text-anchor="end">−</text>
</g>
</svg>
</body></html>
